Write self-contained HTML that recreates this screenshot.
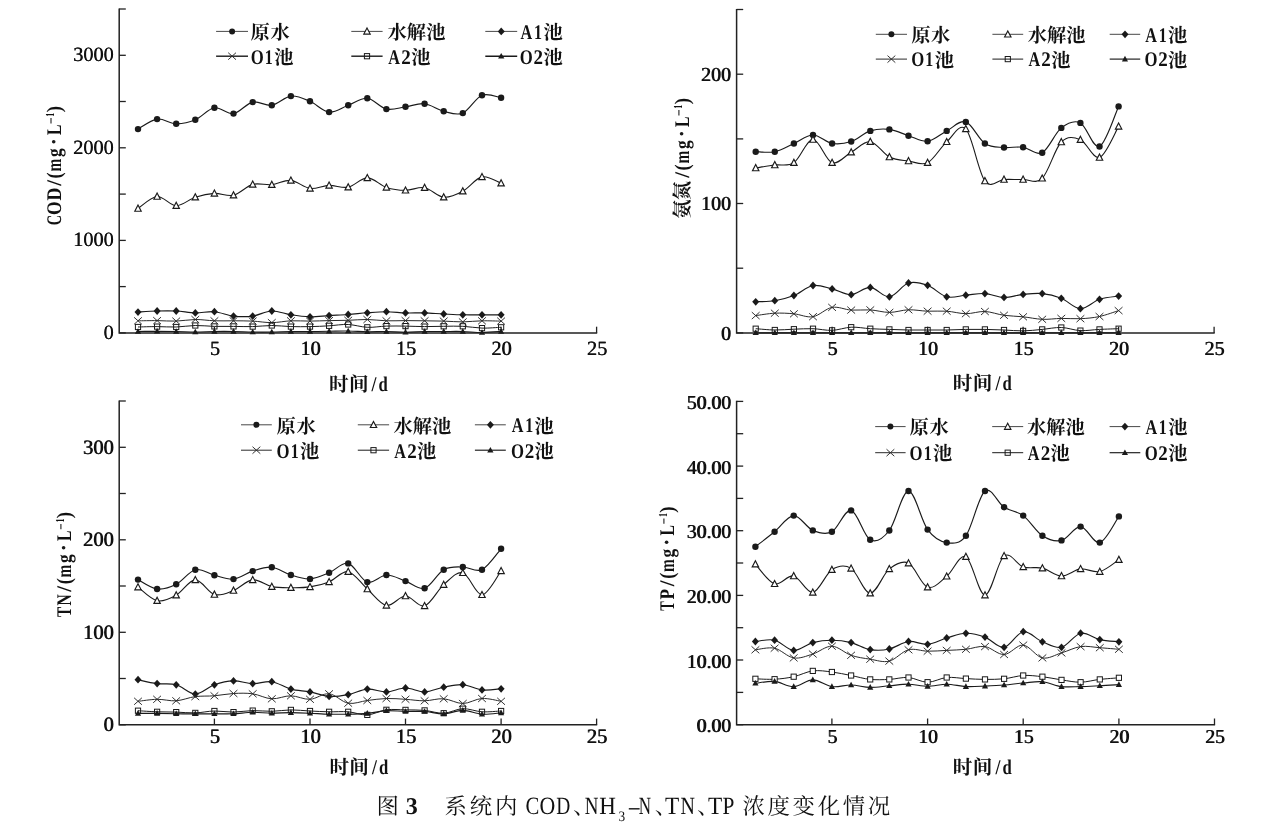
<!DOCTYPE html>
<html><head><meta charset="utf-8"><title>fig3</title>
<style>html,body{margin:0;padding:0;background:#fff}svg text{fill:#111;text-rendering:geometricPrecision}svg{will-change:transform}</style></head>
<body><svg width="1276" height="823" viewBox="0 0 1276 823" style="display:block">
<rect width="1276" height="823" fill="#fff"/>
<path d="M119.2,8.4V332.9H597.2" fill="none" stroke="#222" stroke-width="1.5"/><path d="M119.2,55.3h6.6" stroke="#222" stroke-width="1.3"/><path d="M119.2,147.8h6.6" stroke="#222" stroke-width="1.3"/><path d="M119.2,240.4h6.6" stroke="#222" stroke-width="1.3"/><path d="M119.2,332.9h6.6" stroke="#222" stroke-width="1.3"/><path d="M119.2,9.0h6.6" stroke="#222" stroke-width="1.3"/><path d="M119.2,101.5h6.6" stroke="#222" stroke-width="1.3"/><path d="M119.2,194.1h6.6" stroke="#222" stroke-width="1.3"/><path d="M119.2,286.6h6.6" stroke="#222" stroke-width="1.3"/><path d="M214.4,332.9v-6.2" stroke="#222" stroke-width="1.3"/><text transform="translate(214.74,354.80)" text-anchor="middle" style="font-family:'Liberation Serif',serif;font-size:20.3px;" >5</text><text transform="translate(215.34,354.80)" text-anchor="middle" style="font-family:'Liberation Serif',serif;font-size:20.3px;" >5</text><path d="M310.0,332.9v-6.2" stroke="#222" stroke-width="1.3"/><text transform="translate(310.28,354.80)" text-anchor="middle" style="font-family:'Liberation Serif',serif;font-size:20.3px;" >10</text><text transform="translate(310.88,354.80)" text-anchor="middle" style="font-family:'Liberation Serif',serif;font-size:20.3px;" >10</text><path d="M405.5,332.9v-6.2" stroke="#222" stroke-width="1.3"/><text transform="translate(405.82,354.80)" text-anchor="middle" style="font-family:'Liberation Serif',serif;font-size:20.3px;" >15</text><text transform="translate(406.42,354.80)" text-anchor="middle" style="font-family:'Liberation Serif',serif;font-size:20.3px;" >15</text><path d="M501.1,332.9v-6.2" stroke="#222" stroke-width="1.3"/><text transform="translate(501.36,354.80)" text-anchor="middle" style="font-family:'Liberation Serif',serif;font-size:20.3px;" >20</text><text transform="translate(501.96,354.80)" text-anchor="middle" style="font-family:'Liberation Serif',serif;font-size:20.3px;" >20</text><path d="M596.6,332.9v-6.2" stroke="#222" stroke-width="1.3"/><text transform="translate(596.90,354.80)" text-anchor="middle" style="font-family:'Liberation Serif',serif;font-size:20.3px;" >25</text><text transform="translate(597.50,354.80)" text-anchor="middle" style="font-family:'Liberation Serif',serif;font-size:20.3px;" >25</text><text transform="translate(113.62,61.17)" text-anchor="end" style="font-family:'Liberation Serif',serif;font-size:20.3px;" >3000</text><text transform="translate(113.97,61.17)" text-anchor="end" style="font-family:'Liberation Serif',serif;font-size:20.3px;" >3000</text><text transform="translate(113.62,153.71)" text-anchor="end" style="font-family:'Liberation Serif',serif;font-size:20.3px;" >2000</text><text transform="translate(113.97,153.71)" text-anchor="end" style="font-family:'Liberation Serif',serif;font-size:20.3px;" >2000</text><text transform="translate(113.62,246.26)" text-anchor="end" style="font-family:'Liberation Serif',serif;font-size:20.3px;" >1000</text><text transform="translate(113.97,246.26)" text-anchor="end" style="font-family:'Liberation Serif',serif;font-size:20.3px;" >1000</text><text transform="translate(113.62,338.80)" text-anchor="end" style="font-family:'Liberation Serif',serif;font-size:20.3px;" >0</text><text transform="translate(113.97,338.80)" text-anchor="end" style="font-family:'Liberation Serif',serif;font-size:20.3px;" >0</text>
<path d="M736.6,8.9V332.9H1214.7" fill="none" stroke="#222" stroke-width="1.5"/><path d="M736.6,74.2h6.6" stroke="#222" stroke-width="1.3"/><path d="M736.6,203.5h6.6" stroke="#222" stroke-width="1.3"/><path d="M736.6,332.9h6.6" stroke="#222" stroke-width="1.3"/><path d="M736.6,9.5h6.6" stroke="#222" stroke-width="1.3"/><path d="M736.6,138.9h6.6" stroke="#222" stroke-width="1.3"/><path d="M736.6,268.2h6.6" stroke="#222" stroke-width="1.3"/><path d="M832.1,332.9v-6.2" stroke="#222" stroke-width="1.3"/><text transform="translate(832.30,354.50)" text-anchor="middle" style="font-family:'Liberation Serif',serif;font-size:20px;" >5</text><text transform="translate(833.10,354.50)" text-anchor="middle" style="font-family:'Liberation Serif',serif;font-size:20px;" >5</text><path d="M927.6,332.9v-6.2" stroke="#222" stroke-width="1.3"/><text transform="translate(927.80,354.50)" text-anchor="middle" style="font-family:'Liberation Serif',serif;font-size:20px;" >10</text><text transform="translate(928.60,354.50)" text-anchor="middle" style="font-family:'Liberation Serif',serif;font-size:20px;" >10</text><path d="M1023.1,332.9v-6.2" stroke="#222" stroke-width="1.3"/><text transform="translate(1023.30,354.50)" text-anchor="middle" style="font-family:'Liberation Serif',serif;font-size:20px;" >15</text><text transform="translate(1024.10,354.50)" text-anchor="middle" style="font-family:'Liberation Serif',serif;font-size:20px;" >15</text><path d="M1118.6,332.9v-6.2" stroke="#222" stroke-width="1.3"/><text transform="translate(1118.80,354.50)" text-anchor="middle" style="font-family:'Liberation Serif',serif;font-size:20px;" >20</text><text transform="translate(1119.60,354.50)" text-anchor="middle" style="font-family:'Liberation Serif',serif;font-size:20px;" >20</text><path d="M1214.1,332.9v-6.2" stroke="#222" stroke-width="1.3"/><text transform="translate(1214.30,354.50)" text-anchor="middle" style="font-family:'Liberation Serif',serif;font-size:20px;" >25</text><text transform="translate(1215.10,354.50)" text-anchor="middle" style="font-family:'Liberation Serif',serif;font-size:20px;" >25</text><text transform="translate(730.80,80.78)" text-anchor="end" style="font-family:'Liberation Serif',serif;font-size:20px;" >200</text><text transform="translate(731.60,80.78)" text-anchor="end" style="font-family:'Liberation Serif',serif;font-size:20px;" >200</text><text transform="translate(730.80,210.14)" text-anchor="end" style="font-family:'Liberation Serif',serif;font-size:20px;" >100</text><text transform="translate(731.60,210.14)" text-anchor="end" style="font-family:'Liberation Serif',serif;font-size:20px;" >100</text><text transform="translate(730.80,339.50)" text-anchor="end" style="font-family:'Liberation Serif',serif;font-size:20px;" >0</text><text transform="translate(731.60,339.50)" text-anchor="end" style="font-family:'Liberation Serif',serif;font-size:20px;" >0</text>
<path d="M119.2,400.4V724.8H597.2" fill="none" stroke="#222" stroke-width="1.5"/><path d="M119.2,447.3h6.6" stroke="#222" stroke-width="1.3"/><path d="M119.2,539.8h6.6" stroke="#222" stroke-width="1.3"/><path d="M119.2,632.3h6.6" stroke="#222" stroke-width="1.3"/><path d="M119.2,724.8h6.6" stroke="#222" stroke-width="1.3"/><path d="M119.2,401.0h6.6" stroke="#222" stroke-width="1.3"/><path d="M119.2,493.5h6.6" stroke="#222" stroke-width="1.3"/><path d="M119.2,586.0h6.6" stroke="#222" stroke-width="1.3"/><path d="M119.2,678.5h6.6" stroke="#222" stroke-width="1.3"/><path d="M214.4,724.8v-6.2" stroke="#222" stroke-width="1.3"/><text transform="translate(214.64,742.90)" text-anchor="middle" style="font-family:'Liberation Serif',serif;font-size:20.5px;" >5</text><text transform="translate(215.44,742.90)" text-anchor="middle" style="font-family:'Liberation Serif',serif;font-size:20.5px;" >5</text><path d="M310.0,724.8v-6.2" stroke="#222" stroke-width="1.3"/><text transform="translate(310.18,742.90)" text-anchor="middle" style="font-family:'Liberation Serif',serif;font-size:20.5px;" >10</text><text transform="translate(310.98,742.90)" text-anchor="middle" style="font-family:'Liberation Serif',serif;font-size:20.5px;" >10</text><path d="M405.5,724.8v-6.2" stroke="#222" stroke-width="1.3"/><text transform="translate(405.72,742.90)" text-anchor="middle" style="font-family:'Liberation Serif',serif;font-size:20.5px;" >15</text><text transform="translate(406.52,742.90)" text-anchor="middle" style="font-family:'Liberation Serif',serif;font-size:20.5px;" >15</text><path d="M501.1,724.8v-6.2" stroke="#222" stroke-width="1.3"/><text transform="translate(501.26,742.90)" text-anchor="middle" style="font-family:'Liberation Serif',serif;font-size:20.5px;" >20</text><text transform="translate(502.06,742.90)" text-anchor="middle" style="font-family:'Liberation Serif',serif;font-size:20.5px;" >20</text><path d="M596.6,724.8v-6.2" stroke="#222" stroke-width="1.3"/><text transform="translate(596.80,742.90)" text-anchor="middle" style="font-family:'Liberation Serif',serif;font-size:20.5px;" >25</text><text transform="translate(597.60,742.90)" text-anchor="middle" style="font-family:'Liberation Serif',serif;font-size:20.5px;" >25</text><text transform="translate(113.40,453.86)" text-anchor="end" style="font-family:'Liberation Serif',serif;font-size:20.5px;" >300</text><text transform="translate(114.20,453.86)" text-anchor="end" style="font-family:'Liberation Serif',serif;font-size:20.5px;" >300</text><text transform="translate(113.40,546.37)" text-anchor="end" style="font-family:'Liberation Serif',serif;font-size:20.5px;" >200</text><text transform="translate(114.20,546.37)" text-anchor="end" style="font-family:'Liberation Serif',serif;font-size:20.5px;" >200</text><text transform="translate(113.40,638.89)" text-anchor="end" style="font-family:'Liberation Serif',serif;font-size:20.5px;" >100</text><text transform="translate(114.20,638.89)" text-anchor="end" style="font-family:'Liberation Serif',serif;font-size:20.5px;" >100</text><text transform="translate(113.40,731.40)" text-anchor="end" style="font-family:'Liberation Serif',serif;font-size:20.5px;" >0</text><text transform="translate(114.20,731.40)" text-anchor="end" style="font-family:'Liberation Serif',serif;font-size:20.5px;" >0</text>
<path d="M736.6,400.8V724.7H1215.1" fill="none" stroke="#222" stroke-width="1.5"/><path d="M736.6,401.4h6.6" stroke="#222" stroke-width="1.3"/><path d="M736.6,466.1h6.6" stroke="#222" stroke-width="1.3"/><path d="M736.6,530.7h6.6" stroke="#222" stroke-width="1.3"/><path d="M736.6,595.4h6.6" stroke="#222" stroke-width="1.3"/><path d="M736.6,660.0h6.6" stroke="#222" stroke-width="1.3"/><path d="M736.6,724.7h6.6" stroke="#222" stroke-width="1.3"/><path d="M736.6,433.7h6.6" stroke="#222" stroke-width="1.3"/><path d="M736.6,498.4h6.6" stroke="#222" stroke-width="1.3"/><path d="M736.6,563.0h6.6" stroke="#222" stroke-width="1.3"/><path d="M736.6,627.7h6.6" stroke="#222" stroke-width="1.3"/><path d="M736.6,692.4h6.6" stroke="#222" stroke-width="1.3"/><path d="M831.9,724.7v-6.2" stroke="#222" stroke-width="1.3"/><text transform="translate(832.15,743.20)" text-anchor="middle" style="font-family:'Liberation Serif',serif;font-size:19.7px;" >5</text><text transform="translate(832.95,743.20)" text-anchor="middle" style="font-family:'Liberation Serif',serif;font-size:19.7px;" >5</text><path d="M927.6,724.7v-6.2" stroke="#222" stroke-width="1.3"/><text transform="translate(927.80,743.20)" text-anchor="middle" style="font-family:'Liberation Serif',serif;font-size:19.7px;" >10</text><text transform="translate(928.60,743.20)" text-anchor="middle" style="font-family:'Liberation Serif',serif;font-size:19.7px;" >10</text><path d="M1023.2,724.7v-6.2" stroke="#222" stroke-width="1.3"/><text transform="translate(1023.45,743.20)" text-anchor="middle" style="font-family:'Liberation Serif',serif;font-size:19.7px;" >15</text><text transform="translate(1024.25,743.20)" text-anchor="middle" style="font-family:'Liberation Serif',serif;font-size:19.7px;" >15</text><path d="M1118.9,724.7v-6.2" stroke="#222" stroke-width="1.3"/><text transform="translate(1119.10,743.20)" text-anchor="middle" style="font-family:'Liberation Serif',serif;font-size:19.7px;" >20</text><text transform="translate(1119.90,743.20)" text-anchor="middle" style="font-family:'Liberation Serif',serif;font-size:19.7px;" >20</text><path d="M1214.5,724.7v-6.2" stroke="#222" stroke-width="1.3"/><text transform="translate(1214.75,743.20)" text-anchor="middle" style="font-family:'Liberation Serif',serif;font-size:19.7px;" >25</text><text transform="translate(1215.55,743.20)" text-anchor="middle" style="font-family:'Liberation Serif',serif;font-size:19.7px;" >25</text><text transform="translate(730.80,409.10)" text-anchor="end" style="font-family:'Liberation Serif',serif;font-size:19.7px;" >50.00</text><text transform="translate(731.60,409.10)" text-anchor="end" style="font-family:'Liberation Serif',serif;font-size:19.7px;" >50.00</text><text transform="translate(730.80,473.76)" text-anchor="end" style="font-family:'Liberation Serif',serif;font-size:19.7px;" >40.00</text><text transform="translate(731.60,473.76)" text-anchor="end" style="font-family:'Liberation Serif',serif;font-size:19.7px;" >40.00</text><text transform="translate(730.80,538.42)" text-anchor="end" style="font-family:'Liberation Serif',serif;font-size:19.7px;" >30.00</text><text transform="translate(731.60,538.42)" text-anchor="end" style="font-family:'Liberation Serif',serif;font-size:19.7px;" >30.00</text><text transform="translate(730.80,603.08)" text-anchor="end" style="font-family:'Liberation Serif',serif;font-size:19.7px;" >20.00</text><text transform="translate(731.60,603.08)" text-anchor="end" style="font-family:'Liberation Serif',serif;font-size:19.7px;" >20.00</text><text transform="translate(730.80,667.74)" text-anchor="end" style="font-family:'Liberation Serif',serif;font-size:19.7px;" >10.00</text><text transform="translate(731.60,667.74)" text-anchor="end" style="font-family:'Liberation Serif',serif;font-size:19.7px;" >10.00</text><text transform="translate(730.80,732.40)" text-anchor="end" style="font-family:'Liberation Serif',serif;font-size:19.7px;" >0.00</text><text transform="translate(731.60,732.40)" text-anchor="end" style="font-family:'Liberation Serif',serif;font-size:19.7px;" >0.00</text>
<path d="M138.0,129.1C141.2,127.4 150.7,120.0 157.1,119.1C163.5,118.2 169.9,123.7 176.2,123.8C182.6,123.9 189.0,122.5 195.3,119.8C201.7,117.1 208.1,108.8 214.4,107.8C220.8,106.8 227.2,114.5 233.5,113.6C239.9,112.6 246.3,103.5 252.7,102.1C259.0,100.7 265.4,106.3 271.8,105.3C278.1,104.3 284.5,96.8 290.9,96.1C297.2,95.4 303.6,98.6 310.0,101.3C316.3,104.0 322.7,111.4 329.1,112.1C335.5,112.8 341.8,107.6 348.2,105.3C354.6,103.0 360.9,97.7 367.3,98.3C373.7,98.9 380.0,107.7 386.4,109.1C392.8,110.5 399.2,107.7 405.5,106.8C411.9,105.9 418.3,103.0 424.6,103.8C431.0,104.5 437.4,109.8 443.7,111.3C450.1,112.8 456.5,115.8 462.8,113.1C469.2,110.4 475.6,97.8 482.0,95.3C488.3,92.8 497.9,97.4 501.1,97.8" fill="none" stroke="#1a1a1a" stroke-width="1.15"/>
<path d="M138.0,208.5C141.2,206.5 150.7,197.0 157.1,196.5C163.5,196.0 169.9,205.6 176.2,205.7C182.6,205.8 189.0,199.2 195.3,197.2C201.7,195.1 208.1,193.7 214.4,193.4C220.8,193.1 227.2,196.7 233.5,195.2C239.9,193.7 246.3,186.2 252.7,184.4C259.0,182.7 265.4,185.4 271.8,184.7C278.1,184.0 284.5,179.8 290.9,180.4C297.2,181.0 303.6,187.6 310.0,188.4C316.3,189.2 322.7,185.6 329.1,185.4C335.5,185.2 341.8,188.4 348.2,187.2C354.6,185.9 360.9,177.9 367.3,177.9C373.7,177.9 380.0,185.3 386.4,187.4C392.8,189.5 399.2,190.2 405.5,190.3C411.9,190.4 418.3,186.5 424.6,187.7C431.0,188.8 437.4,196.6 443.7,197.2C450.1,197.8 456.5,194.6 462.8,191.2C469.2,187.8 475.6,178.2 482.0,176.9C488.3,175.6 497.9,182.1 501.1,183.2" fill="none" stroke="#1a1a1a" stroke-width="1.1"/>
<path d="M138.0,312.1C141.2,311.9 150.7,311.2 157.1,311.0C163.5,310.8 169.9,310.7 176.2,311.0C182.6,311.3 189.0,312.8 195.3,312.9C201.7,313.0 208.1,311.2 214.4,311.7C220.8,312.2 227.2,315.4 233.5,316.1C239.9,316.8 246.3,317.0 252.7,316.1C259.0,315.2 265.4,311.2 271.8,311.0C278.1,310.8 284.5,313.8 290.9,314.8C297.2,315.8 303.6,316.7 310.0,316.8C316.3,316.9 322.7,316.0 329.1,315.6C335.5,315.2 341.8,315.0 348.2,314.5C354.6,314.0 360.9,313.3 367.3,312.8C373.7,312.3 380.0,311.7 386.4,311.7C392.8,311.7 399.2,312.7 405.5,312.9C411.9,313.1 418.3,312.7 424.6,312.9C431.0,313.1 437.4,313.7 443.7,314.0C450.1,314.3 456.5,314.7 462.8,314.8C469.2,314.9 475.6,314.8 482.0,314.8C488.3,314.8 497.9,314.8 501.1,314.8" fill="none" stroke="#1a1a1a" stroke-width="1.15"/>
<path d="M138.0,320.8C141.2,320.8 150.7,320.6 157.1,320.6C163.5,320.7 169.9,321.3 176.2,321.1C182.6,320.9 189.0,319.6 195.3,319.5C201.7,319.4 208.1,320.6 214.4,320.8C220.8,321.0 227.2,320.8 233.5,320.8C239.9,320.9 246.3,320.8 252.7,321.1C259.0,321.4 265.4,322.7 271.8,322.6C278.1,322.6 284.5,321.1 290.9,320.8C297.2,320.6 303.6,321.1 310.0,321.1C316.3,321.1 322.7,320.7 329.1,320.6C335.5,320.5 341.8,320.5 348.2,320.3C354.6,320.1 360.9,319.4 367.3,319.5C373.7,319.6 380.0,320.6 386.4,320.8C392.8,321.0 399.2,320.6 405.5,320.6C411.9,320.6 418.3,320.7 424.6,320.8C431.0,320.9 437.4,320.9 443.7,321.1C450.1,321.3 456.5,321.9 462.8,321.9C469.2,321.8 475.6,320.9 482.0,320.8C488.3,320.7 497.9,321.1 501.1,321.1" fill="none" stroke="#2a2a2a" stroke-width="1.0"/>
<path d="M138.0,327.0C141.2,326.9 150.7,326.6 157.1,326.6C163.5,326.6 169.9,327.2 176.2,327.0C182.6,326.8 189.0,325.6 195.3,325.5C201.7,325.4 208.1,326.2 214.4,326.4C220.8,326.5 227.2,326.4 233.5,326.4C239.9,326.4 246.3,326.8 252.7,326.6C259.0,326.5 265.4,325.5 271.8,325.5C278.1,325.5 284.5,326.4 290.9,326.6C297.2,326.8 303.6,326.7 310.0,326.6C316.3,326.5 322.7,326.2 329.1,325.8C335.5,325.4 341.8,324.2 348.2,324.5C354.6,324.8 360.9,327.0 367.3,327.3C373.7,327.6 380.0,326.3 386.4,326.1C392.8,325.9 399.2,326.0 405.5,326.1C411.9,326.2 418.3,326.6 424.6,326.6C431.0,326.6 437.4,326.4 443.7,326.3C450.1,326.2 456.5,326.0 462.8,326.3C469.2,326.6 475.6,327.9 482.0,328.1C488.3,328.3 497.9,327.4 501.1,327.3" fill="none" stroke="#1a1a1a" stroke-width="1.0"/>
<path d="M138.0,331.5C141.2,331.5 150.7,331.3 157.1,331.3C163.5,331.3 169.9,331.4 176.2,331.5C182.6,331.6 189.0,332.0 195.3,332.0C201.7,332.0 208.1,331.6 214.4,331.5C220.8,331.4 227.2,331.4 233.5,331.5C239.9,331.6 246.3,331.9 252.7,332.0C259.0,332.1 265.4,332.1 271.8,332.0C278.1,331.9 284.5,331.6 290.9,331.5C297.2,331.4 303.6,331.5 310.0,331.5C316.3,331.5 322.7,331.4 329.1,331.3C335.5,331.2 341.8,330.9 348.2,331.0C354.6,331.1 360.9,331.7 367.3,331.8C373.7,331.9 380.0,331.4 386.4,331.5C392.8,331.6 399.2,332.3 405.5,332.3C411.9,332.3 418.3,331.6 424.6,331.5C431.0,331.4 437.4,331.5 443.7,331.5C450.1,331.5 456.5,331.3 462.8,331.5C469.2,331.7 475.6,332.5 482.0,332.5C488.3,332.5 497.9,331.7 501.1,331.5" fill="none" stroke="#1a1a1a" stroke-width="1.15"/>
<circle cx="138.0" cy="129.1" r="3.2" fill="#1a1a1a"/>
<circle cx="157.1" cy="119.1" r="3.2" fill="#1a1a1a"/>
<circle cx="176.2" cy="123.8" r="3.2" fill="#1a1a1a"/>
<circle cx="195.3" cy="119.8" r="3.2" fill="#1a1a1a"/>
<circle cx="214.4" cy="107.8" r="3.2" fill="#1a1a1a"/>
<circle cx="233.5" cy="113.6" r="3.2" fill="#1a1a1a"/>
<circle cx="252.7" cy="102.1" r="3.2" fill="#1a1a1a"/>
<circle cx="271.8" cy="105.3" r="3.2" fill="#1a1a1a"/>
<circle cx="290.9" cy="96.1" r="3.2" fill="#1a1a1a"/>
<circle cx="310.0" cy="101.3" r="3.2" fill="#1a1a1a"/>
<circle cx="329.1" cy="112.1" r="3.2" fill="#1a1a1a"/>
<circle cx="348.2" cy="105.3" r="3.2" fill="#1a1a1a"/>
<circle cx="367.3" cy="98.3" r="3.2" fill="#1a1a1a"/>
<circle cx="386.4" cy="109.1" r="3.2" fill="#1a1a1a"/>
<circle cx="405.5" cy="106.8" r="3.2" fill="#1a1a1a"/>
<circle cx="424.6" cy="103.8" r="3.2" fill="#1a1a1a"/>
<circle cx="443.7" cy="111.3" r="3.2" fill="#1a1a1a"/>
<circle cx="462.8" cy="113.1" r="3.2" fill="#1a1a1a"/>
<circle cx="482.0" cy="95.3" r="3.2" fill="#1a1a1a"/>
<circle cx="501.1" cy="97.8" r="3.2" fill="#1a1a1a"/>
<path d="M138.0,205.1L141.2,211.2L134.8,211.2Z" fill="#fff" stroke="#1a1a1a" stroke-width="1.15"/>
<path d="M157.1,193.1L160.3,199.2L153.9,199.2Z" fill="#fff" stroke="#1a1a1a" stroke-width="1.15"/>
<path d="M176.2,202.3L179.4,208.4L173.0,208.4Z" fill="#fff" stroke="#1a1a1a" stroke-width="1.15"/>
<path d="M195.3,193.8L198.5,199.9L192.1,199.9Z" fill="#fff" stroke="#1a1a1a" stroke-width="1.15"/>
<path d="M214.4,190.0L217.6,196.1L211.2,196.1Z" fill="#fff" stroke="#1a1a1a" stroke-width="1.15"/>
<path d="M233.5,191.8L236.7,197.9L230.3,197.9Z" fill="#fff" stroke="#1a1a1a" stroke-width="1.15"/>
<path d="M252.7,181.0L255.9,187.1L249.5,187.1Z" fill="#fff" stroke="#1a1a1a" stroke-width="1.15"/>
<path d="M271.8,181.3L275.0,187.4L268.6,187.4Z" fill="#fff" stroke="#1a1a1a" stroke-width="1.15"/>
<path d="M290.9,177.0L294.1,183.1L287.7,183.1Z" fill="#fff" stroke="#1a1a1a" stroke-width="1.15"/>
<path d="M310.0,185.0L313.2,191.1L306.8,191.1Z" fill="#fff" stroke="#1a1a1a" stroke-width="1.15"/>
<path d="M329.1,182.0L332.3,188.1L325.9,188.1Z" fill="#fff" stroke="#1a1a1a" stroke-width="1.15"/>
<path d="M348.2,183.8L351.4,189.9L345.0,189.9Z" fill="#fff" stroke="#1a1a1a" stroke-width="1.15"/>
<path d="M367.3,174.5L370.5,180.6L364.1,180.6Z" fill="#fff" stroke="#1a1a1a" stroke-width="1.15"/>
<path d="M386.4,184.0L389.6,190.1L383.2,190.1Z" fill="#fff" stroke="#1a1a1a" stroke-width="1.15"/>
<path d="M405.5,186.9L408.7,193.0L402.3,193.0Z" fill="#fff" stroke="#1a1a1a" stroke-width="1.15"/>
<path d="M424.6,184.3L427.8,190.4L421.4,190.4Z" fill="#fff" stroke="#1a1a1a" stroke-width="1.15"/>
<path d="M443.7,193.8L446.9,199.9L440.5,199.9Z" fill="#fff" stroke="#1a1a1a" stroke-width="1.15"/>
<path d="M462.8,187.8L466.0,193.9L459.6,193.9Z" fill="#fff" stroke="#1a1a1a" stroke-width="1.15"/>
<path d="M482.0,173.5L485.2,179.6L478.8,179.6Z" fill="#fff" stroke="#1a1a1a" stroke-width="1.15"/>
<path d="M501.1,179.8L504.3,185.9L497.9,185.9Z" fill="#fff" stroke="#1a1a1a" stroke-width="1.15"/>
<path d="M138.0,308.2L141.5,312.1L138.0,316.0L134.5,312.1Z" fill="#1a1a1a"/>
<path d="M157.1,307.1L160.6,311.0L157.1,314.9L153.6,311.0Z" fill="#1a1a1a"/>
<path d="M176.2,307.1L179.7,311.0L176.2,314.9L172.7,311.0Z" fill="#1a1a1a"/>
<path d="M195.3,309.0L198.8,312.9L195.3,316.8L191.8,312.9Z" fill="#1a1a1a"/>
<path d="M214.4,307.8L217.9,311.7L214.4,315.6L210.9,311.7Z" fill="#1a1a1a"/>
<path d="M233.5,312.2L237.0,316.1L233.5,320.0L230.0,316.1Z" fill="#1a1a1a"/>
<path d="M252.7,312.2L256.2,316.1L252.7,320.0L249.2,316.1Z" fill="#1a1a1a"/>
<path d="M271.8,307.1L275.3,311.0L271.8,314.9L268.3,311.0Z" fill="#1a1a1a"/>
<path d="M290.9,310.9L294.4,314.8L290.9,318.7L287.4,314.8Z" fill="#1a1a1a"/>
<path d="M310.0,312.9L313.5,316.8L310.0,320.7L306.5,316.8Z" fill="#1a1a1a"/>
<path d="M329.1,311.7L332.6,315.6L329.1,319.5L325.6,315.6Z" fill="#1a1a1a"/>
<path d="M348.2,310.6L351.7,314.5L348.2,318.4L344.7,314.5Z" fill="#1a1a1a"/>
<path d="M367.3,308.9L370.8,312.8L367.3,316.7L363.8,312.8Z" fill="#1a1a1a"/>
<path d="M386.4,307.8L389.9,311.7L386.4,315.6L382.9,311.7Z" fill="#1a1a1a"/>
<path d="M405.5,309.0L409.0,312.9L405.5,316.8L402.0,312.9Z" fill="#1a1a1a"/>
<path d="M424.6,309.0L428.1,312.9L424.6,316.8L421.1,312.9Z" fill="#1a1a1a"/>
<path d="M443.7,310.1L447.2,314.0L443.7,317.9L440.2,314.0Z" fill="#1a1a1a"/>
<path d="M462.8,310.9L466.3,314.8L462.8,318.7L459.3,314.8Z" fill="#1a1a1a"/>
<path d="M482.0,310.9L485.5,314.8L482.0,318.7L478.5,314.8Z" fill="#1a1a1a"/>
<path d="M501.1,310.9L504.6,314.8L501.1,318.7L497.6,314.8Z" fill="#1a1a1a"/>
<path d="M134.1,317.3L141.9,324.3M141.9,317.3L134.1,324.3" stroke="#2a2a2a" stroke-width="0.95" fill="none"/>
<path d="M153.2,317.1L161.0,324.1M161.0,317.1L153.2,324.1" stroke="#2a2a2a" stroke-width="0.95" fill="none"/>
<path d="M172.3,317.6L180.1,324.6M180.1,317.6L172.3,324.6" stroke="#2a2a2a" stroke-width="0.95" fill="none"/>
<path d="M191.4,316.0L199.2,323.0M199.2,316.0L191.4,323.0" stroke="#2a2a2a" stroke-width="0.95" fill="none"/>
<path d="M210.5,317.3L218.3,324.3M218.3,317.3L210.5,324.3" stroke="#2a2a2a" stroke-width="0.95" fill="none"/>
<path d="M229.6,317.3L237.4,324.3M237.4,317.3L229.6,324.3" stroke="#2a2a2a" stroke-width="0.95" fill="none"/>
<path d="M248.8,317.6L256.6,324.6M256.6,317.6L248.8,324.6" stroke="#2a2a2a" stroke-width="0.95" fill="none"/>
<path d="M267.9,319.1L275.7,326.1M275.7,319.1L267.9,326.1" stroke="#2a2a2a" stroke-width="0.95" fill="none"/>
<path d="M287.0,317.3L294.8,324.3M294.8,317.3L287.0,324.3" stroke="#2a2a2a" stroke-width="0.95" fill="none"/>
<path d="M306.1,317.6L313.9,324.6M313.9,317.6L306.1,324.6" stroke="#2a2a2a" stroke-width="0.95" fill="none"/>
<path d="M325.2,317.1L333.0,324.1M333.0,317.1L325.2,324.1" stroke="#2a2a2a" stroke-width="0.95" fill="none"/>
<path d="M344.3,316.8L352.1,323.8M352.1,316.8L344.3,323.8" stroke="#2a2a2a" stroke-width="0.95" fill="none"/>
<path d="M363.4,316.0L371.2,323.0M371.2,316.0L363.4,323.0" stroke="#2a2a2a" stroke-width="0.95" fill="none"/>
<path d="M382.5,317.3L390.3,324.3M390.3,317.3L382.5,324.3" stroke="#2a2a2a" stroke-width="0.95" fill="none"/>
<path d="M401.6,317.1L409.4,324.1M409.4,317.1L401.6,324.1" stroke="#2a2a2a" stroke-width="0.95" fill="none"/>
<path d="M420.7,317.3L428.5,324.3M428.5,317.3L420.7,324.3" stroke="#2a2a2a" stroke-width="0.95" fill="none"/>
<path d="M439.8,317.6L447.6,324.6M447.6,317.6L439.8,324.6" stroke="#2a2a2a" stroke-width="0.95" fill="none"/>
<path d="M458.9,318.4L466.7,325.4M466.7,318.4L458.9,325.4" stroke="#2a2a2a" stroke-width="0.95" fill="none"/>
<path d="M478.1,317.3L485.9,324.3M485.9,317.3L478.1,324.3" stroke="#2a2a2a" stroke-width="0.95" fill="none"/>
<path d="M497.2,317.6L505.0,324.6M505.0,317.6L497.2,324.6" stroke="#2a2a2a" stroke-width="0.95" fill="none"/>
<rect x="135.4" y="324.4" width="5.2" height="5.2" fill="none" stroke="#1a1a1a" stroke-width="1"/>
<rect x="154.5" y="324.0" width="5.2" height="5.2" fill="none" stroke="#1a1a1a" stroke-width="1"/>
<rect x="173.6" y="324.4" width="5.2" height="5.2" fill="none" stroke="#1a1a1a" stroke-width="1"/>
<rect x="192.7" y="322.9" width="5.2" height="5.2" fill="none" stroke="#1a1a1a" stroke-width="1"/>
<rect x="211.8" y="323.8" width="5.2" height="5.2" fill="none" stroke="#1a1a1a" stroke-width="1"/>
<rect x="230.9" y="323.8" width="5.2" height="5.2" fill="none" stroke="#1a1a1a" stroke-width="1"/>
<rect x="250.1" y="324.0" width="5.2" height="5.2" fill="none" stroke="#1a1a1a" stroke-width="1"/>
<rect x="269.2" y="322.9" width="5.2" height="5.2" fill="none" stroke="#1a1a1a" stroke-width="1"/>
<rect x="288.3" y="324.0" width="5.2" height="5.2" fill="none" stroke="#1a1a1a" stroke-width="1"/>
<rect x="307.4" y="324.0" width="5.2" height="5.2" fill="none" stroke="#1a1a1a" stroke-width="1"/>
<rect x="326.5" y="323.2" width="5.2" height="5.2" fill="none" stroke="#1a1a1a" stroke-width="1"/>
<rect x="345.6" y="321.9" width="5.2" height="5.2" fill="none" stroke="#1a1a1a" stroke-width="1"/>
<rect x="364.7" y="324.7" width="5.2" height="5.2" fill="none" stroke="#1a1a1a" stroke-width="1"/>
<rect x="383.8" y="323.5" width="5.2" height="5.2" fill="none" stroke="#1a1a1a" stroke-width="1"/>
<rect x="402.9" y="323.5" width="5.2" height="5.2" fill="none" stroke="#1a1a1a" stroke-width="1"/>
<rect x="422.0" y="324.0" width="5.2" height="5.2" fill="none" stroke="#1a1a1a" stroke-width="1"/>
<rect x="441.1" y="323.7" width="5.2" height="5.2" fill="none" stroke="#1a1a1a" stroke-width="1"/>
<rect x="460.2" y="323.7" width="5.2" height="5.2" fill="none" stroke="#1a1a1a" stroke-width="1"/>
<rect x="479.4" y="325.5" width="5.2" height="5.2" fill="none" stroke="#1a1a1a" stroke-width="1"/>
<rect x="498.5" y="324.7" width="5.2" height="5.2" fill="none" stroke="#1a1a1a" stroke-width="1"/>
<path d="M138.0,328.2L141.1,333.8L134.9,333.8Z" fill="#1a1a1a"/>
<path d="M157.1,328.0L160.2,333.6L154.0,333.6Z" fill="#1a1a1a"/>
<path d="M176.2,328.2L179.3,333.8L173.1,333.8Z" fill="#1a1a1a"/>
<path d="M195.3,328.7L198.4,334.3L192.2,334.3Z" fill="#1a1a1a"/>
<path d="M214.4,328.2L217.5,333.8L211.3,333.8Z" fill="#1a1a1a"/>
<path d="M233.5,328.2L236.6,333.8L230.4,333.8Z" fill="#1a1a1a"/>
<path d="M252.7,328.7L255.8,334.3L249.6,334.3Z" fill="#1a1a1a"/>
<path d="M271.8,328.7L274.9,334.3L268.7,334.3Z" fill="#1a1a1a"/>
<path d="M290.9,328.2L294.0,333.8L287.8,333.8Z" fill="#1a1a1a"/>
<path d="M310.0,328.2L313.1,333.8L306.9,333.8Z" fill="#1a1a1a"/>
<path d="M329.1,328.0L332.2,333.6L326.0,333.6Z" fill="#1a1a1a"/>
<path d="M348.2,327.7L351.3,333.3L345.1,333.3Z" fill="#1a1a1a"/>
<path d="M367.3,328.5L370.4,334.1L364.2,334.1Z" fill="#1a1a1a"/>
<path d="M386.4,328.2L389.5,333.8L383.3,333.8Z" fill="#1a1a1a"/>
<path d="M405.5,329.0L408.6,334.6L402.4,334.6Z" fill="#1a1a1a"/>
<path d="M424.6,328.2L427.7,333.8L421.5,333.8Z" fill="#1a1a1a"/>
<path d="M443.7,328.2L446.8,333.8L440.6,333.8Z" fill="#1a1a1a"/>
<path d="M462.8,328.2L465.9,333.8L459.7,333.8Z" fill="#1a1a1a"/>
<path d="M482.0,329.2L485.1,334.8L478.9,334.8Z" fill="#1a1a1a"/>
<path d="M501.1,328.2L504.2,333.8L498.0,333.8Z" fill="#1a1a1a"/>
<path d="M755.7,151.7C758.9,151.7 768.4,153.1 774.8,151.7C781.2,150.3 787.5,146.3 793.9,143.5C800.3,140.7 806.6,135.0 813.0,135.0C819.4,135.0 825.7,142.4 832.1,143.5C838.5,144.6 844.8,143.6 851.2,141.5C857.6,139.4 863.9,132.9 870.3,130.9C876.7,128.9 883.0,128.6 889.4,129.4C895.8,130.2 902.1,133.7 908.5,135.7C914.9,137.7 921.2,142.1 927.6,141.3C934.0,140.5 940.3,134.1 946.7,130.9C953.1,127.7 959.4,119.8 965.8,121.9C972.2,124.0 978.5,139.2 984.9,143.5C991.3,147.8 997.6,146.9 1004.0,147.5C1010.4,148.1 1016.7,146.3 1023.1,147.2C1029.5,148.1 1035.8,155.9 1042.2,152.7C1048.6,149.5 1054.9,132.9 1061.3,127.9C1067.7,122.9 1074.0,119.8 1080.4,122.9C1086.8,126.0 1093.1,149.2 1099.5,146.5C1105.9,143.8 1115.4,113.1 1118.6,106.4" fill="none" stroke="#1a1a1a" stroke-width="1.15"/>
<path d="M755.7,168.0C758.9,167.5 768.4,165.9 774.8,165.0C781.2,164.1 787.5,166.9 793.9,162.7C800.3,158.4 806.6,139.5 813.0,139.5C819.4,139.5 825.7,160.6 832.1,162.7C838.5,164.8 844.8,155.7 851.2,152.2C857.6,148.7 863.9,140.9 870.3,141.7C876.7,142.5 883.0,153.8 889.4,157.0C895.8,160.2 902.1,160.1 908.5,161.0C914.9,161.9 921.2,165.9 927.6,162.7C934.0,159.5 940.3,147.4 946.7,141.8C953.1,136.2 959.4,122.4 965.8,128.9C972.2,135.4 978.5,172.6 984.9,181.0C991.3,189.4 997.6,179.8 1004.0,179.5C1010.4,179.2 1016.7,179.7 1023.1,179.5C1029.5,179.3 1035.8,184.6 1042.2,178.3C1048.6,172.1 1054.9,148.4 1061.3,142.0C1067.7,135.6 1074.0,137.1 1080.4,139.7C1086.8,142.3 1093.1,159.7 1099.5,157.5C1105.9,155.3 1115.4,131.6 1118.6,126.4" fill="none" stroke="#1a1a1a" stroke-width="1.1"/>
<path d="M755.7,301.8C758.9,301.6 768.4,301.8 774.8,300.7C781.2,299.6 787.5,298.0 793.9,295.5C800.3,293.0 806.6,286.6 813.0,285.5C819.4,284.4 825.7,287.4 832.1,288.9C838.5,290.4 844.8,294.9 851.2,294.7C857.6,294.4 863.9,287.0 870.3,287.4C876.7,287.8 883.0,297.5 889.4,296.8C895.8,296.1 902.1,284.9 908.5,283.0C914.9,281.1 921.2,283.0 927.6,285.3C934.0,287.6 940.3,295.2 946.7,296.8C953.1,298.4 959.4,295.7 965.8,295.2C972.2,294.7 978.5,293.2 984.9,293.6C991.3,294.0 997.6,297.3 1004.0,297.4C1010.4,297.5 1016.7,295.0 1023.1,294.4C1029.5,293.8 1035.8,293.0 1042.2,293.6C1048.6,294.2 1054.9,295.8 1061.3,298.3C1067.7,300.8 1074.0,308.5 1080.4,308.7C1086.8,308.9 1093.1,301.4 1099.5,299.3C1105.9,297.2 1115.4,296.6 1118.6,296.1" fill="none" stroke="#1a1a1a" stroke-width="1.15"/>
<path d="M755.7,315.6C758.9,315.2 768.4,313.5 774.8,313.2C781.2,312.9 787.5,313.2 793.9,313.8C800.3,314.4 806.6,317.8 813.0,316.7C819.4,315.6 825.7,308.5 832.1,307.4C838.5,306.3 844.8,309.7 851.2,310.1C857.6,310.5 863.9,309.5 870.3,309.9C876.7,310.3 883.0,312.4 889.4,312.4C895.8,312.4 902.1,310.0 908.5,309.8C914.9,309.6 921.2,311.0 927.6,311.2C934.0,311.4 940.3,310.8 946.7,311.2C953.1,311.6 959.4,313.6 965.8,313.7C972.2,313.8 978.5,311.2 984.9,311.5C991.3,311.8 997.6,314.4 1004.0,315.3C1010.4,316.2 1016.7,316.1 1023.1,316.8C1029.5,317.5 1035.8,319.0 1042.2,319.3C1048.6,319.6 1054.9,318.5 1061.3,318.4C1067.7,318.3 1074.0,319.0 1080.4,318.7C1086.8,318.4 1093.1,317.9 1099.5,316.5C1105.9,315.1 1115.4,311.6 1118.6,310.6" fill="none" stroke="#2a2a2a" stroke-width="1.0"/>
<path d="M755.7,328.7C758.9,328.9 768.4,329.9 774.8,330.0C781.2,330.1 787.5,329.4 793.9,329.2C800.3,329.0 806.6,328.5 813.0,328.7C819.4,328.9 825.7,330.6 832.1,330.3C838.5,330.1 844.8,327.5 851.2,327.2C857.6,326.9 863.9,328.3 870.3,328.7C876.7,329.1 883.0,329.2 889.4,329.4C895.8,329.6 902.1,329.9 908.5,330.0C914.9,330.1 921.2,330.0 927.6,330.0C934.0,330.0 940.3,330.1 946.7,330.0C953.1,329.9 959.4,329.5 965.8,329.4C972.2,329.3 978.5,329.3 984.9,329.4C991.3,329.5 997.6,329.8 1004.0,330.0C1010.4,330.2 1016.7,331.0 1023.1,330.9C1029.5,330.8 1035.8,330.0 1042.2,329.4C1048.6,328.8 1054.9,327.3 1061.3,327.5C1067.7,327.7 1074.0,330.3 1080.4,330.6C1086.8,330.9 1093.1,329.7 1099.5,329.4C1105.9,329.1 1115.4,328.8 1118.6,328.7" fill="none" stroke="#1a1a1a" stroke-width="1.0"/>
<path d="M755.7,332.8C758.9,332.8 768.4,332.8 774.8,332.8C781.2,332.8 787.5,332.8 793.9,332.8C800.3,332.8 806.6,332.8 813.0,332.8C819.4,332.8 825.7,332.8 832.1,332.8C838.5,332.8 844.8,332.8 851.2,332.8C857.6,332.8 863.9,332.8 870.3,332.8C876.7,332.8 883.0,332.8 889.4,332.8C895.8,332.8 902.1,332.8 908.5,332.8C914.9,332.8 921.2,332.8 927.6,332.8C934.0,332.8 940.3,332.8 946.7,332.8C953.1,332.8 959.4,332.8 965.8,332.8C972.2,332.8 978.5,332.8 984.9,332.8C991.3,332.8 997.6,332.8 1004.0,332.8C1010.4,332.8 1016.7,332.8 1023.1,332.8C1029.5,332.8 1035.8,332.8 1042.2,332.8C1048.6,332.8 1054.9,332.8 1061.3,332.8C1067.7,332.8 1074.0,332.8 1080.4,332.8C1086.8,332.8 1093.1,332.8 1099.5,332.8C1105.9,332.8 1115.4,332.8 1118.6,332.8" fill="none" stroke="#1a1a1a" stroke-width="1.15"/>
<circle cx="755.7" cy="151.7" r="3.2" fill="#1a1a1a"/>
<circle cx="774.8" cy="151.7" r="3.2" fill="#1a1a1a"/>
<circle cx="793.9" cy="143.5" r="3.2" fill="#1a1a1a"/>
<circle cx="813.0" cy="135.0" r="3.2" fill="#1a1a1a"/>
<circle cx="832.1" cy="143.5" r="3.2" fill="#1a1a1a"/>
<circle cx="851.2" cy="141.5" r="3.2" fill="#1a1a1a"/>
<circle cx="870.3" cy="130.9" r="3.2" fill="#1a1a1a"/>
<circle cx="889.4" cy="129.4" r="3.2" fill="#1a1a1a"/>
<circle cx="908.5" cy="135.7" r="3.2" fill="#1a1a1a"/>
<circle cx="927.6" cy="141.3" r="3.2" fill="#1a1a1a"/>
<circle cx="946.7" cy="130.9" r="3.2" fill="#1a1a1a"/>
<circle cx="965.8" cy="121.9" r="3.2" fill="#1a1a1a"/>
<circle cx="984.9" cy="143.5" r="3.2" fill="#1a1a1a"/>
<circle cx="1004.0" cy="147.5" r="3.2" fill="#1a1a1a"/>
<circle cx="1023.1" cy="147.2" r="3.2" fill="#1a1a1a"/>
<circle cx="1042.2" cy="152.7" r="3.2" fill="#1a1a1a"/>
<circle cx="1061.3" cy="127.9" r="3.2" fill="#1a1a1a"/>
<circle cx="1080.4" cy="122.9" r="3.2" fill="#1a1a1a"/>
<circle cx="1099.5" cy="146.5" r="3.2" fill="#1a1a1a"/>
<circle cx="1118.6" cy="106.4" r="3.2" fill="#1a1a1a"/>
<path d="M755.7,164.6L758.9,170.7L752.5,170.7Z" fill="#fff" stroke="#1a1a1a" stroke-width="1.15"/>
<path d="M774.8,161.6L778.0,167.7L771.6,167.7Z" fill="#fff" stroke="#1a1a1a" stroke-width="1.15"/>
<path d="M793.9,159.3L797.1,165.4L790.7,165.4Z" fill="#fff" stroke="#1a1a1a" stroke-width="1.15"/>
<path d="M813.0,136.1L816.2,142.2L809.8,142.2Z" fill="#fff" stroke="#1a1a1a" stroke-width="1.15"/>
<path d="M832.1,159.3L835.3,165.4L828.9,165.4Z" fill="#fff" stroke="#1a1a1a" stroke-width="1.15"/>
<path d="M851.2,148.8L854.4,154.9L848.0,154.9Z" fill="#fff" stroke="#1a1a1a" stroke-width="1.15"/>
<path d="M870.3,138.3L873.5,144.4L867.1,144.4Z" fill="#fff" stroke="#1a1a1a" stroke-width="1.15"/>
<path d="M889.4,153.6L892.6,159.7L886.2,159.7Z" fill="#fff" stroke="#1a1a1a" stroke-width="1.15"/>
<path d="M908.5,157.6L911.7,163.7L905.3,163.7Z" fill="#fff" stroke="#1a1a1a" stroke-width="1.15"/>
<path d="M927.6,159.3L930.8,165.4L924.4,165.4Z" fill="#fff" stroke="#1a1a1a" stroke-width="1.15"/>
<path d="M946.7,138.4L949.9,144.5L943.5,144.5Z" fill="#fff" stroke="#1a1a1a" stroke-width="1.15"/>
<path d="M965.8,125.5L969.0,131.6L962.6,131.6Z" fill="#fff" stroke="#1a1a1a" stroke-width="1.15"/>
<path d="M984.9,177.6L988.1,183.7L981.7,183.7Z" fill="#fff" stroke="#1a1a1a" stroke-width="1.15"/>
<path d="M1004.0,176.1L1007.2,182.2L1000.8,182.2Z" fill="#fff" stroke="#1a1a1a" stroke-width="1.15"/>
<path d="M1023.1,176.1L1026.3,182.2L1019.9,182.2Z" fill="#fff" stroke="#1a1a1a" stroke-width="1.15"/>
<path d="M1042.2,174.9L1045.4,181.0L1039.0,181.0Z" fill="#fff" stroke="#1a1a1a" stroke-width="1.15"/>
<path d="M1061.3,138.6L1064.5,144.7L1058.1,144.7Z" fill="#fff" stroke="#1a1a1a" stroke-width="1.15"/>
<path d="M1080.4,136.3L1083.6,142.4L1077.2,142.4Z" fill="#fff" stroke="#1a1a1a" stroke-width="1.15"/>
<path d="M1099.5,154.1L1102.7,160.2L1096.3,160.2Z" fill="#fff" stroke="#1a1a1a" stroke-width="1.15"/>
<path d="M1118.6,123.0L1121.8,129.1L1115.4,129.1Z" fill="#fff" stroke="#1a1a1a" stroke-width="1.15"/>
<path d="M755.7,297.9L759.2,301.8L755.7,305.7L752.2,301.8Z" fill="#1a1a1a"/>
<path d="M774.8,296.8L778.3,300.7L774.8,304.6L771.3,300.7Z" fill="#1a1a1a"/>
<path d="M793.9,291.6L797.4,295.5L793.9,299.4L790.4,295.5Z" fill="#1a1a1a"/>
<path d="M813.0,281.6L816.5,285.5L813.0,289.4L809.5,285.5Z" fill="#1a1a1a"/>
<path d="M832.1,285.0L835.6,288.9L832.1,292.8L828.6,288.9Z" fill="#1a1a1a"/>
<path d="M851.2,290.8L854.7,294.7L851.2,298.6L847.7,294.7Z" fill="#1a1a1a"/>
<path d="M870.3,283.5L873.8,287.4L870.3,291.3L866.8,287.4Z" fill="#1a1a1a"/>
<path d="M889.4,292.9L892.9,296.8L889.4,300.7L885.9,296.8Z" fill="#1a1a1a"/>
<path d="M908.5,279.1L912.0,283.0L908.5,286.9L905.0,283.0Z" fill="#1a1a1a"/>
<path d="M927.6,281.4L931.1,285.3L927.6,289.2L924.1,285.3Z" fill="#1a1a1a"/>
<path d="M946.7,292.9L950.2,296.8L946.7,300.7L943.2,296.8Z" fill="#1a1a1a"/>
<path d="M965.8,291.3L969.3,295.2L965.8,299.1L962.3,295.2Z" fill="#1a1a1a"/>
<path d="M984.9,289.7L988.4,293.6L984.9,297.5L981.4,293.6Z" fill="#1a1a1a"/>
<path d="M1004.0,293.5L1007.5,297.4L1004.0,301.3L1000.5,297.4Z" fill="#1a1a1a"/>
<path d="M1023.1,290.5L1026.6,294.4L1023.1,298.3L1019.6,294.4Z" fill="#1a1a1a"/>
<path d="M1042.2,289.7L1045.7,293.6L1042.2,297.5L1038.7,293.6Z" fill="#1a1a1a"/>
<path d="M1061.3,294.4L1064.8,298.3L1061.3,302.2L1057.8,298.3Z" fill="#1a1a1a"/>
<path d="M1080.4,304.8L1083.9,308.7L1080.4,312.6L1076.9,308.7Z" fill="#1a1a1a"/>
<path d="M1099.5,295.4L1103.0,299.3L1099.5,303.2L1096.0,299.3Z" fill="#1a1a1a"/>
<path d="M1118.6,292.2L1122.1,296.1L1118.6,300.0L1115.1,296.1Z" fill="#1a1a1a"/>
<path d="M751.8,312.1L759.6,319.1M759.6,312.1L751.8,319.1" stroke="#2a2a2a" stroke-width="0.95" fill="none"/>
<path d="M770.9,309.7L778.7,316.7M778.7,309.7L770.9,316.7" stroke="#2a2a2a" stroke-width="0.95" fill="none"/>
<path d="M790.0,310.3L797.8,317.3M797.8,310.3L790.0,317.3" stroke="#2a2a2a" stroke-width="0.95" fill="none"/>
<path d="M809.1,313.2L816.9,320.2M816.9,313.2L809.1,320.2" stroke="#2a2a2a" stroke-width="0.95" fill="none"/>
<path d="M828.2,303.9L836.0,310.9M836.0,303.9L828.2,310.9" stroke="#2a2a2a" stroke-width="0.95" fill="none"/>
<path d="M847.3,306.6L855.1,313.6M855.1,306.6L847.3,313.6" stroke="#2a2a2a" stroke-width="0.95" fill="none"/>
<path d="M866.4,306.4L874.2,313.4M874.2,306.4L866.4,313.4" stroke="#2a2a2a" stroke-width="0.95" fill="none"/>
<path d="M885.5,308.9L893.3,315.9M893.3,308.9L885.5,315.9" stroke="#2a2a2a" stroke-width="0.95" fill="none"/>
<path d="M904.6,306.3L912.4,313.3M912.4,306.3L904.6,313.3" stroke="#2a2a2a" stroke-width="0.95" fill="none"/>
<path d="M923.7,307.7L931.5,314.7M931.5,307.7L923.7,314.7" stroke="#2a2a2a" stroke-width="0.95" fill="none"/>
<path d="M942.8,307.7L950.6,314.7M950.6,307.7L942.8,314.7" stroke="#2a2a2a" stroke-width="0.95" fill="none"/>
<path d="M961.9,310.2L969.7,317.2M969.7,310.2L961.9,317.2" stroke="#2a2a2a" stroke-width="0.95" fill="none"/>
<path d="M981.0,308.0L988.8,315.0M988.8,308.0L981.0,315.0" stroke="#2a2a2a" stroke-width="0.95" fill="none"/>
<path d="M1000.1,311.8L1007.9,318.8M1007.9,311.8L1000.1,318.8" stroke="#2a2a2a" stroke-width="0.95" fill="none"/>
<path d="M1019.2,313.3L1027.0,320.3M1027.0,313.3L1019.2,320.3" stroke="#2a2a2a" stroke-width="0.95" fill="none"/>
<path d="M1038.3,315.8L1046.1,322.8M1046.1,315.8L1038.3,322.8" stroke="#2a2a2a" stroke-width="0.95" fill="none"/>
<path d="M1057.4,314.9L1065.2,321.9M1065.2,314.9L1057.4,321.9" stroke="#2a2a2a" stroke-width="0.95" fill="none"/>
<path d="M1076.5,315.2L1084.3,322.2M1084.3,315.2L1076.5,322.2" stroke="#2a2a2a" stroke-width="0.95" fill="none"/>
<path d="M1095.6,313.0L1103.4,320.0M1103.4,313.0L1095.6,320.0" stroke="#2a2a2a" stroke-width="0.95" fill="none"/>
<path d="M1114.7,307.1L1122.5,314.1M1122.5,307.1L1114.7,314.1" stroke="#2a2a2a" stroke-width="0.95" fill="none"/>
<rect x="753.1" y="326.1" width="5.2" height="5.2" fill="none" stroke="#1a1a1a" stroke-width="1"/>
<rect x="772.2" y="327.4" width="5.2" height="5.2" fill="none" stroke="#1a1a1a" stroke-width="1"/>
<rect x="791.3" y="326.6" width="5.2" height="5.2" fill="none" stroke="#1a1a1a" stroke-width="1"/>
<rect x="810.4" y="326.1" width="5.2" height="5.2" fill="none" stroke="#1a1a1a" stroke-width="1"/>
<rect x="829.5" y="327.7" width="5.2" height="5.2" fill="none" stroke="#1a1a1a" stroke-width="1"/>
<rect x="848.6" y="324.6" width="5.2" height="5.2" fill="none" stroke="#1a1a1a" stroke-width="1"/>
<rect x="867.7" y="326.1" width="5.2" height="5.2" fill="none" stroke="#1a1a1a" stroke-width="1"/>
<rect x="886.8" y="326.8" width="5.2" height="5.2" fill="none" stroke="#1a1a1a" stroke-width="1"/>
<rect x="905.9" y="327.4" width="5.2" height="5.2" fill="none" stroke="#1a1a1a" stroke-width="1"/>
<rect x="925.0" y="327.4" width="5.2" height="5.2" fill="none" stroke="#1a1a1a" stroke-width="1"/>
<rect x="944.1" y="327.4" width="5.2" height="5.2" fill="none" stroke="#1a1a1a" stroke-width="1"/>
<rect x="963.2" y="326.8" width="5.2" height="5.2" fill="none" stroke="#1a1a1a" stroke-width="1"/>
<rect x="982.3" y="326.8" width="5.2" height="5.2" fill="none" stroke="#1a1a1a" stroke-width="1"/>
<rect x="1001.4" y="327.4" width="5.2" height="5.2" fill="none" stroke="#1a1a1a" stroke-width="1"/>
<rect x="1020.5" y="328.3" width="5.2" height="5.2" fill="none" stroke="#1a1a1a" stroke-width="1"/>
<rect x="1039.6" y="326.8" width="5.2" height="5.2" fill="none" stroke="#1a1a1a" stroke-width="1"/>
<rect x="1058.7" y="324.9" width="5.2" height="5.2" fill="none" stroke="#1a1a1a" stroke-width="1"/>
<rect x="1077.8" y="328.0" width="5.2" height="5.2" fill="none" stroke="#1a1a1a" stroke-width="1"/>
<rect x="1096.9" y="326.8" width="5.2" height="5.2" fill="none" stroke="#1a1a1a" stroke-width="1"/>
<rect x="1116.0" y="326.1" width="5.2" height="5.2" fill="none" stroke="#1a1a1a" stroke-width="1"/>
<path d="M755.7,329.5L758.8,335.1L752.6,335.1Z" fill="#1a1a1a"/>
<path d="M774.8,329.5L777.9,335.1L771.7,335.1Z" fill="#1a1a1a"/>
<path d="M793.9,329.5L797.0,335.1L790.8,335.1Z" fill="#1a1a1a"/>
<path d="M813.0,329.5L816.1,335.1L809.9,335.1Z" fill="#1a1a1a"/>
<path d="M832.1,329.5L835.2,335.1L829.0,335.1Z" fill="#1a1a1a"/>
<path d="M851.2,329.5L854.3,335.1L848.1,335.1Z" fill="#1a1a1a"/>
<path d="M870.3,329.5L873.4,335.1L867.2,335.1Z" fill="#1a1a1a"/>
<path d="M889.4,329.5L892.5,335.1L886.3,335.1Z" fill="#1a1a1a"/>
<path d="M908.5,329.5L911.6,335.1L905.4,335.1Z" fill="#1a1a1a"/>
<path d="M927.6,329.5L930.7,335.1L924.5,335.1Z" fill="#1a1a1a"/>
<path d="M946.7,329.5L949.8,335.1L943.6,335.1Z" fill="#1a1a1a"/>
<path d="M965.8,329.5L968.9,335.1L962.7,335.1Z" fill="#1a1a1a"/>
<path d="M984.9,329.5L988.0,335.1L981.8,335.1Z" fill="#1a1a1a"/>
<path d="M1004.0,329.5L1007.1,335.1L1000.9,335.1Z" fill="#1a1a1a"/>
<path d="M1023.1,329.5L1026.2,335.1L1020.0,335.1Z" fill="#1a1a1a"/>
<path d="M1042.2,329.5L1045.3,335.1L1039.1,335.1Z" fill="#1a1a1a"/>
<path d="M1061.3,329.5L1064.4,335.1L1058.2,335.1Z" fill="#1a1a1a"/>
<path d="M1080.4,329.5L1083.5,335.1L1077.3,335.1Z" fill="#1a1a1a"/>
<path d="M1099.5,329.5L1102.6,335.1L1096.4,335.1Z" fill="#1a1a1a"/>
<path d="M1118.6,329.5L1121.7,335.1L1115.5,335.1Z" fill="#1a1a1a"/>
<path d="M138.0,579.6C141.2,581.2 150.7,588.2 157.1,589.0C163.5,589.8 169.9,587.5 176.2,584.3C182.6,581.1 189.0,571.2 195.3,569.7C201.7,568.2 208.1,573.6 214.4,575.2C220.8,576.8 227.2,579.8 233.5,579.1C239.9,578.4 246.3,573.1 252.7,571.1C259.0,569.1 265.4,566.6 271.8,567.2C278.1,567.9 284.5,573.0 290.9,575.0C297.2,577.0 303.6,579.3 310.0,578.9C316.3,578.5 322.7,575.4 329.1,572.8C335.5,570.2 341.8,561.8 348.2,563.4C354.6,565.0 360.9,580.2 367.3,582.1C373.7,584.0 380.0,575.2 386.4,575.0C392.8,574.8 399.2,578.9 405.5,581.1C411.9,583.3 418.3,590.2 424.6,588.3C431.0,586.4 437.4,573.2 443.7,569.7C450.1,566.2 456.5,567.0 462.8,567.0C469.2,567.0 475.6,572.7 482.0,569.7C488.3,566.7 497.9,552.3 501.1,548.8" fill="none" stroke="#1a1a1a" stroke-width="1.15"/>
<path d="M138.0,587.1C141.2,589.4 150.7,599.4 157.1,600.7C163.5,602.1 169.9,598.7 176.2,595.2C182.6,591.7 189.0,580.0 195.3,579.9C201.7,579.8 208.1,592.7 214.4,594.5C220.8,596.3 227.2,592.9 233.5,590.5C239.9,588.1 246.3,580.5 252.7,579.9C259.0,579.2 265.4,585.3 271.8,586.6C278.1,587.9 284.5,587.7 290.9,587.7C297.2,587.8 303.6,587.9 310.0,586.9C316.3,585.9 322.7,584.4 329.1,581.9C335.5,579.4 341.8,570.5 348.2,571.7C354.6,572.9 360.9,583.4 367.3,589.0C373.7,594.6 380.0,604.2 386.4,605.4C392.8,606.6 399.2,595.9 405.5,596.0C411.9,596.1 418.3,607.8 424.6,605.9C431.0,604.0 437.4,590.1 443.7,584.6C450.1,579.1 456.5,571.1 462.8,572.8C469.2,574.5 475.6,595.1 482.0,594.8C488.3,594.5 497.9,574.9 501.1,570.9" fill="none" stroke="#1a1a1a" stroke-width="1.1"/>
<path d="M138.0,679.7C141.2,680.4 150.7,682.8 157.1,683.6C163.5,684.5 169.9,683.0 176.2,684.8C182.6,686.5 189.0,694.1 195.3,694.1C201.7,694.1 208.1,687.0 214.4,684.8C220.8,682.6 227.2,681.1 233.5,680.9C239.9,680.7 246.3,683.5 252.7,683.6C259.0,683.7 265.4,680.8 271.8,681.7C278.1,682.6 284.5,687.4 290.9,689.1C297.2,690.8 303.6,690.7 310.0,691.9C316.3,693.1 322.7,695.9 329.1,696.4C335.5,696.9 341.8,695.8 348.2,694.6C354.6,693.4 360.9,689.6 367.3,689.1C373.7,688.6 380.0,692.1 386.4,691.9C392.8,691.7 399.2,688.0 405.5,688.0C411.9,688.0 418.3,692.0 424.6,691.9C431.0,691.8 437.4,688.4 443.7,687.2C450.1,686.0 456.5,684.2 462.8,684.7C469.2,685.2 475.6,689.2 482.0,689.9C488.3,690.6 497.9,689.0 501.1,688.8" fill="none" stroke="#1a1a1a" stroke-width="1.15"/>
<path d="M138.0,701.3C141.2,701.0 150.7,699.4 157.1,699.3C163.5,699.2 169.9,701.2 176.2,700.8C182.6,700.3 189.0,697.4 195.3,696.6C201.7,695.8 208.1,696.3 214.4,695.8C220.8,695.3 227.2,693.8 233.5,693.5C239.9,693.2 246.3,692.9 252.7,693.8C259.0,694.7 265.4,698.5 271.8,698.8C278.1,699.1 284.5,695.7 290.9,695.8C297.2,695.9 303.6,699.6 310.0,699.3C316.3,699.0 322.7,693.1 329.1,693.8C335.5,694.4 341.8,702.1 348.2,703.2C354.6,704.3 360.9,701.3 367.3,700.5C373.7,699.7 380.0,698.7 386.4,698.5C392.8,698.3 399.2,698.9 405.5,699.3C411.9,699.7 418.3,700.9 424.6,700.8C431.0,700.7 437.4,698.3 443.7,698.8C450.1,699.2 456.5,703.5 462.8,703.5C469.2,703.5 475.6,698.9 482.0,698.5C488.3,698.1 497.9,700.8 501.1,701.3" fill="none" stroke="#2a2a2a" stroke-width="1.0"/>
<path d="M138.0,710.7C141.2,710.9 150.7,711.6 157.1,711.8C163.5,712.0 169.9,711.9 176.2,712.1C182.6,712.3 189.0,713.1 195.3,712.9C201.7,712.7 208.1,711.1 214.4,711.0C220.8,710.9 227.2,712.2 233.5,712.1C239.9,712.0 246.3,710.7 252.7,710.6C259.0,710.5 265.4,711.4 271.8,711.3C278.1,711.2 284.5,709.9 290.9,709.9C297.2,709.9 303.6,710.7 310.0,711.0C316.3,711.3 322.7,711.7 329.1,711.8C335.5,711.9 341.8,711.3 348.2,711.8C354.6,712.3 360.9,715.2 367.3,714.9C373.7,714.6 380.0,710.6 386.4,709.8C392.8,709.0 399.2,709.8 405.5,709.9C411.9,710.0 418.3,709.8 424.6,710.4C431.0,711.0 437.4,713.5 443.7,713.2C450.1,712.9 456.5,708.9 462.8,708.7C469.2,708.5 475.6,711.4 482.0,711.8C488.3,712.2 497.9,711.1 501.1,711.0" fill="none" stroke="#1a1a1a" stroke-width="1.0"/>
<path d="M138.0,713.4C141.2,713.4 150.7,713.3 157.1,713.4C163.5,713.5 169.9,713.7 176.2,713.8C182.6,713.9 189.0,713.8 195.3,713.8C201.7,713.8 208.1,713.8 214.4,713.8C220.8,713.8 227.2,714.0 233.5,713.8C239.9,713.5 246.3,712.4 252.7,712.3C259.0,712.2 265.4,713.2 271.8,713.2C278.1,713.2 284.5,712.6 290.9,712.6C297.2,712.6 303.6,712.9 310.0,713.2C316.3,713.5 322.7,714.0 329.1,714.2C335.5,714.4 341.8,714.3 348.2,714.2C354.6,714.1 360.9,714.0 367.3,713.4C373.7,712.8 380.0,710.9 386.4,710.6C392.8,710.3 399.2,711.4 405.5,711.5C411.9,711.6 418.3,711.1 424.6,711.5C431.0,711.9 437.4,714.0 443.7,713.8C450.1,713.6 456.5,710.3 462.8,710.4C469.2,710.5 475.6,713.8 482.0,714.2C488.3,714.6 497.9,713.1 501.1,712.9" fill="none" stroke="#1a1a1a" stroke-width="1.15"/>
<circle cx="138.0" cy="579.6" r="3.2" fill="#1a1a1a"/>
<circle cx="157.1" cy="589.0" r="3.2" fill="#1a1a1a"/>
<circle cx="176.2" cy="584.3" r="3.2" fill="#1a1a1a"/>
<circle cx="195.3" cy="569.7" r="3.2" fill="#1a1a1a"/>
<circle cx="214.4" cy="575.2" r="3.2" fill="#1a1a1a"/>
<circle cx="233.5" cy="579.1" r="3.2" fill="#1a1a1a"/>
<circle cx="252.7" cy="571.1" r="3.2" fill="#1a1a1a"/>
<circle cx="271.8" cy="567.2" r="3.2" fill="#1a1a1a"/>
<circle cx="290.9" cy="575.0" r="3.2" fill="#1a1a1a"/>
<circle cx="310.0" cy="578.9" r="3.2" fill="#1a1a1a"/>
<circle cx="329.1" cy="572.8" r="3.2" fill="#1a1a1a"/>
<circle cx="348.2" cy="563.4" r="3.2" fill="#1a1a1a"/>
<circle cx="367.3" cy="582.1" r="3.2" fill="#1a1a1a"/>
<circle cx="386.4" cy="575.0" r="3.2" fill="#1a1a1a"/>
<circle cx="405.5" cy="581.1" r="3.2" fill="#1a1a1a"/>
<circle cx="424.6" cy="588.3" r="3.2" fill="#1a1a1a"/>
<circle cx="443.7" cy="569.7" r="3.2" fill="#1a1a1a"/>
<circle cx="462.8" cy="567.0" r="3.2" fill="#1a1a1a"/>
<circle cx="482.0" cy="569.7" r="3.2" fill="#1a1a1a"/>
<circle cx="501.1" cy="548.8" r="3.2" fill="#1a1a1a"/>
<path d="M138.0,583.7L141.2,589.8L134.8,589.8Z" fill="#fff" stroke="#1a1a1a" stroke-width="1.15"/>
<path d="M157.1,597.3L160.3,603.4L153.9,603.4Z" fill="#fff" stroke="#1a1a1a" stroke-width="1.15"/>
<path d="M176.2,591.8L179.4,597.9L173.0,597.9Z" fill="#fff" stroke="#1a1a1a" stroke-width="1.15"/>
<path d="M195.3,576.5L198.5,582.6L192.1,582.6Z" fill="#fff" stroke="#1a1a1a" stroke-width="1.15"/>
<path d="M214.4,591.1L217.6,597.2L211.2,597.2Z" fill="#fff" stroke="#1a1a1a" stroke-width="1.15"/>
<path d="M233.5,587.1L236.7,593.2L230.3,593.2Z" fill="#fff" stroke="#1a1a1a" stroke-width="1.15"/>
<path d="M252.7,576.5L255.9,582.6L249.5,582.6Z" fill="#fff" stroke="#1a1a1a" stroke-width="1.15"/>
<path d="M271.8,583.2L275.0,589.3L268.6,589.3Z" fill="#fff" stroke="#1a1a1a" stroke-width="1.15"/>
<path d="M290.9,584.3L294.1,590.4L287.7,590.4Z" fill="#fff" stroke="#1a1a1a" stroke-width="1.15"/>
<path d="M310.0,583.5L313.2,589.6L306.8,589.6Z" fill="#fff" stroke="#1a1a1a" stroke-width="1.15"/>
<path d="M329.1,578.5L332.3,584.6L325.9,584.6Z" fill="#fff" stroke="#1a1a1a" stroke-width="1.15"/>
<path d="M348.2,568.3L351.4,574.4L345.0,574.4Z" fill="#fff" stroke="#1a1a1a" stroke-width="1.15"/>
<path d="M367.3,585.6L370.5,591.7L364.1,591.7Z" fill="#fff" stroke="#1a1a1a" stroke-width="1.15"/>
<path d="M386.4,602.0L389.6,608.1L383.2,608.1Z" fill="#fff" stroke="#1a1a1a" stroke-width="1.15"/>
<path d="M405.5,592.6L408.7,598.7L402.3,598.7Z" fill="#fff" stroke="#1a1a1a" stroke-width="1.15"/>
<path d="M424.6,602.5L427.8,608.6L421.4,608.6Z" fill="#fff" stroke="#1a1a1a" stroke-width="1.15"/>
<path d="M443.7,581.2L446.9,587.3L440.5,587.3Z" fill="#fff" stroke="#1a1a1a" stroke-width="1.15"/>
<path d="M462.8,569.4L466.0,575.5L459.6,575.5Z" fill="#fff" stroke="#1a1a1a" stroke-width="1.15"/>
<path d="M482.0,591.4L485.2,597.5L478.8,597.5Z" fill="#fff" stroke="#1a1a1a" stroke-width="1.15"/>
<path d="M501.1,567.5L504.3,573.6L497.9,573.6Z" fill="#fff" stroke="#1a1a1a" stroke-width="1.15"/>
<path d="M138.0,675.8L141.5,679.7L138.0,683.6L134.5,679.7Z" fill="#1a1a1a"/>
<path d="M157.1,679.7L160.6,683.6L157.1,687.5L153.6,683.6Z" fill="#1a1a1a"/>
<path d="M176.2,680.9L179.7,684.8L176.2,688.7L172.7,684.8Z" fill="#1a1a1a"/>
<path d="M195.3,690.2L198.8,694.1L195.3,698.0L191.8,694.1Z" fill="#1a1a1a"/>
<path d="M214.4,680.9L217.9,684.8L214.4,688.7L210.9,684.8Z" fill="#1a1a1a"/>
<path d="M233.5,677.0L237.0,680.9L233.5,684.8L230.0,680.9Z" fill="#1a1a1a"/>
<path d="M252.7,679.7L256.2,683.6L252.7,687.5L249.2,683.6Z" fill="#1a1a1a"/>
<path d="M271.8,677.8L275.3,681.7L271.8,685.6L268.3,681.7Z" fill="#1a1a1a"/>
<path d="M290.9,685.2L294.4,689.1L290.9,693.0L287.4,689.1Z" fill="#1a1a1a"/>
<path d="M310.0,688.0L313.5,691.9L310.0,695.8L306.5,691.9Z" fill="#1a1a1a"/>
<path d="M329.1,692.5L332.6,696.4L329.1,700.3L325.6,696.4Z" fill="#1a1a1a"/>
<path d="M348.2,690.7L351.7,694.6L348.2,698.5L344.7,694.6Z" fill="#1a1a1a"/>
<path d="M367.3,685.2L370.8,689.1L367.3,693.0L363.8,689.1Z" fill="#1a1a1a"/>
<path d="M386.4,688.0L389.9,691.9L386.4,695.8L382.9,691.9Z" fill="#1a1a1a"/>
<path d="M405.5,684.1L409.0,688.0L405.5,691.9L402.0,688.0Z" fill="#1a1a1a"/>
<path d="M424.6,688.0L428.1,691.9L424.6,695.8L421.1,691.9Z" fill="#1a1a1a"/>
<path d="M443.7,683.3L447.2,687.2L443.7,691.1L440.2,687.2Z" fill="#1a1a1a"/>
<path d="M462.8,680.8L466.3,684.7L462.8,688.6L459.3,684.7Z" fill="#1a1a1a"/>
<path d="M482.0,686.0L485.5,689.9L482.0,693.8L478.5,689.9Z" fill="#1a1a1a"/>
<path d="M501.1,684.9L504.6,688.8L501.1,692.7L497.6,688.8Z" fill="#1a1a1a"/>
<path d="M134.1,697.8L141.9,704.8M141.9,697.8L134.1,704.8" stroke="#2a2a2a" stroke-width="0.95" fill="none"/>
<path d="M153.2,695.8L161.0,702.8M161.0,695.8L153.2,702.8" stroke="#2a2a2a" stroke-width="0.95" fill="none"/>
<path d="M172.3,697.3L180.1,704.3M180.1,697.3L172.3,704.3" stroke="#2a2a2a" stroke-width="0.95" fill="none"/>
<path d="M191.4,693.1L199.2,700.1M199.2,693.1L191.4,700.1" stroke="#2a2a2a" stroke-width="0.95" fill="none"/>
<path d="M210.5,692.3L218.3,699.3M218.3,692.3L210.5,699.3" stroke="#2a2a2a" stroke-width="0.95" fill="none"/>
<path d="M229.6,690.0L237.4,697.0M237.4,690.0L229.6,697.0" stroke="#2a2a2a" stroke-width="0.95" fill="none"/>
<path d="M248.8,690.3L256.6,697.3M256.6,690.3L248.8,697.3" stroke="#2a2a2a" stroke-width="0.95" fill="none"/>
<path d="M267.9,695.3L275.7,702.3M275.7,695.3L267.9,702.3" stroke="#2a2a2a" stroke-width="0.95" fill="none"/>
<path d="M287.0,692.3L294.8,699.3M294.8,692.3L287.0,699.3" stroke="#2a2a2a" stroke-width="0.95" fill="none"/>
<path d="M306.1,695.8L313.9,702.8M313.9,695.8L306.1,702.8" stroke="#2a2a2a" stroke-width="0.95" fill="none"/>
<path d="M325.2,690.3L333.0,697.3M333.0,690.3L325.2,697.3" stroke="#2a2a2a" stroke-width="0.95" fill="none"/>
<path d="M344.3,699.7L352.1,706.7M352.1,699.7L344.3,706.7" stroke="#2a2a2a" stroke-width="0.95" fill="none"/>
<path d="M363.4,697.0L371.2,704.0M371.2,697.0L363.4,704.0" stroke="#2a2a2a" stroke-width="0.95" fill="none"/>
<path d="M382.5,695.0L390.3,702.0M390.3,695.0L382.5,702.0" stroke="#2a2a2a" stroke-width="0.95" fill="none"/>
<path d="M401.6,695.8L409.4,702.8M409.4,695.8L401.6,702.8" stroke="#2a2a2a" stroke-width="0.95" fill="none"/>
<path d="M420.7,697.3L428.5,704.3M428.5,697.3L420.7,704.3" stroke="#2a2a2a" stroke-width="0.95" fill="none"/>
<path d="M439.8,695.3L447.6,702.3M447.6,695.3L439.8,702.3" stroke="#2a2a2a" stroke-width="0.95" fill="none"/>
<path d="M458.9,700.0L466.7,707.0M466.7,700.0L458.9,707.0" stroke="#2a2a2a" stroke-width="0.95" fill="none"/>
<path d="M478.1,695.0L485.9,702.0M485.9,695.0L478.1,702.0" stroke="#2a2a2a" stroke-width="0.95" fill="none"/>
<path d="M497.2,697.8L505.0,704.8M505.0,697.8L497.2,704.8" stroke="#2a2a2a" stroke-width="0.95" fill="none"/>
<rect x="135.4" y="708.1" width="5.2" height="5.2" fill="none" stroke="#1a1a1a" stroke-width="1"/>
<rect x="154.5" y="709.2" width="5.2" height="5.2" fill="none" stroke="#1a1a1a" stroke-width="1"/>
<rect x="173.6" y="709.5" width="5.2" height="5.2" fill="none" stroke="#1a1a1a" stroke-width="1"/>
<rect x="192.7" y="710.3" width="5.2" height="5.2" fill="none" stroke="#1a1a1a" stroke-width="1"/>
<rect x="211.8" y="708.4" width="5.2" height="5.2" fill="none" stroke="#1a1a1a" stroke-width="1"/>
<rect x="230.9" y="709.5" width="5.2" height="5.2" fill="none" stroke="#1a1a1a" stroke-width="1"/>
<rect x="250.1" y="708.0" width="5.2" height="5.2" fill="none" stroke="#1a1a1a" stroke-width="1"/>
<rect x="269.2" y="708.7" width="5.2" height="5.2" fill="none" stroke="#1a1a1a" stroke-width="1"/>
<rect x="288.3" y="707.3" width="5.2" height="5.2" fill="none" stroke="#1a1a1a" stroke-width="1"/>
<rect x="307.4" y="708.4" width="5.2" height="5.2" fill="none" stroke="#1a1a1a" stroke-width="1"/>
<rect x="326.5" y="709.2" width="5.2" height="5.2" fill="none" stroke="#1a1a1a" stroke-width="1"/>
<rect x="345.6" y="709.2" width="5.2" height="5.2" fill="none" stroke="#1a1a1a" stroke-width="1"/>
<rect x="364.7" y="712.3" width="5.2" height="5.2" fill="none" stroke="#1a1a1a" stroke-width="1"/>
<rect x="383.8" y="707.2" width="5.2" height="5.2" fill="none" stroke="#1a1a1a" stroke-width="1"/>
<rect x="402.9" y="707.3" width="5.2" height="5.2" fill="none" stroke="#1a1a1a" stroke-width="1"/>
<rect x="422.0" y="707.8" width="5.2" height="5.2" fill="none" stroke="#1a1a1a" stroke-width="1"/>
<rect x="441.1" y="710.6" width="5.2" height="5.2" fill="none" stroke="#1a1a1a" stroke-width="1"/>
<rect x="460.2" y="706.1" width="5.2" height="5.2" fill="none" stroke="#1a1a1a" stroke-width="1"/>
<rect x="479.4" y="709.2" width="5.2" height="5.2" fill="none" stroke="#1a1a1a" stroke-width="1"/>
<rect x="498.5" y="708.4" width="5.2" height="5.2" fill="none" stroke="#1a1a1a" stroke-width="1"/>
<path d="M138.0,710.1L141.1,715.7L134.9,715.7Z" fill="#1a1a1a"/>
<path d="M157.1,710.1L160.2,715.7L154.0,715.7Z" fill="#1a1a1a"/>
<path d="M176.2,710.5L179.3,716.1L173.1,716.1Z" fill="#1a1a1a"/>
<path d="M195.3,710.5L198.4,716.1L192.2,716.1Z" fill="#1a1a1a"/>
<path d="M214.4,710.5L217.5,716.1L211.3,716.1Z" fill="#1a1a1a"/>
<path d="M233.5,710.5L236.6,716.1L230.4,716.1Z" fill="#1a1a1a"/>
<path d="M252.7,709.0L255.8,714.6L249.6,714.6Z" fill="#1a1a1a"/>
<path d="M271.8,709.9L274.9,715.5L268.7,715.5Z" fill="#1a1a1a"/>
<path d="M290.9,709.3L294.0,714.9L287.8,714.9Z" fill="#1a1a1a"/>
<path d="M310.0,709.9L313.1,715.5L306.9,715.5Z" fill="#1a1a1a"/>
<path d="M329.1,710.9L332.2,716.5L326.0,716.5Z" fill="#1a1a1a"/>
<path d="M348.2,710.9L351.3,716.5L345.1,716.5Z" fill="#1a1a1a"/>
<path d="M367.3,710.1L370.4,715.7L364.2,715.7Z" fill="#1a1a1a"/>
<path d="M386.4,707.3L389.5,712.9L383.3,712.9Z" fill="#1a1a1a"/>
<path d="M405.5,708.2L408.6,713.8L402.4,713.8Z" fill="#1a1a1a"/>
<path d="M424.6,708.2L427.7,713.8L421.5,713.8Z" fill="#1a1a1a"/>
<path d="M443.7,710.5L446.8,716.1L440.6,716.1Z" fill="#1a1a1a"/>
<path d="M462.8,707.1L465.9,712.7L459.7,712.7Z" fill="#1a1a1a"/>
<path d="M482.0,710.9L485.1,716.5L478.9,716.5Z" fill="#1a1a1a"/>
<path d="M501.1,709.6L504.2,715.2L498.0,715.2Z" fill="#1a1a1a"/>
<path d="M755.4,546.7C758.6,544.2 768.2,537.0 774.6,531.8C780.9,526.6 787.3,515.8 793.7,515.6C800.1,515.4 806.4,527.7 812.8,530.4C819.2,533.1 825.6,535.1 831.9,531.8C838.3,528.5 844.7,509.1 851.1,510.4C857.5,511.7 863.8,536.4 870.2,539.8C876.6,543.1 883.0,538.6 889.3,530.5C895.7,522.4 902.1,491.1 908.5,491.0C914.8,490.9 921.2,521.0 927.6,529.6C934.0,538.2 940.4,541.6 946.7,542.6C953.1,543.6 959.5,544.4 965.9,535.8C972.2,527.2 978.6,495.8 985.0,491.0C991.4,486.2 997.7,503.2 1004.1,507.3C1010.5,511.4 1016.9,510.9 1023.2,515.6C1029.6,520.3 1036.0,531.6 1042.4,535.7C1048.8,539.8 1055.1,541.9 1061.5,540.4C1067.9,538.9 1074.3,526.2 1080.6,526.6C1087.0,527.0 1093.4,544.3 1099.8,542.6C1106.1,540.9 1115.7,520.8 1118.9,516.4" fill="none" stroke="#1a1a1a" stroke-width="1.15"/>
<path d="M755.4,564.2C758.6,567.5 768.2,581.8 774.6,583.8C780.9,585.8 787.3,574.6 793.7,576.0C800.1,577.4 806.4,593.4 812.8,592.4C819.2,591.4 825.6,573.7 831.9,569.7C838.3,565.7 844.7,564.5 851.1,568.4C857.5,572.3 863.8,593.1 870.2,593.2C876.6,593.3 883.0,573.9 889.3,568.9C895.7,563.9 902.1,560.0 908.5,563.1C914.8,566.2 921.2,585.0 927.6,587.2C934.0,589.4 940.4,581.4 946.7,576.3C953.1,571.2 959.5,553.6 965.9,556.7C972.2,559.8 978.6,595.2 985.0,595.1C991.4,595.0 997.7,560.6 1004.1,555.9C1010.5,551.2 1016.9,564.9 1023.2,566.9C1029.6,568.9 1036.0,566.6 1042.4,568.1C1048.8,569.6 1055.1,575.9 1061.5,576.0C1067.9,576.1 1074.3,569.6 1080.6,568.9C1087.0,568.2 1093.4,573.1 1099.8,571.6C1106.1,570.1 1115.7,561.7 1118.9,559.7" fill="none" stroke="#1a1a1a" stroke-width="1.1"/>
<path d="M755.4,641.5C758.6,641.3 768.2,638.7 774.6,640.2C780.9,641.7 787.3,650.0 793.7,650.4C800.1,650.8 806.4,644.3 812.8,642.6C819.2,640.9 825.6,640.2 831.9,640.2C838.3,640.2 844.7,641.0 851.1,642.6C857.5,644.2 863.8,648.5 870.2,649.6C876.6,650.7 883.0,650.4 889.3,649.0C895.7,647.6 902.1,642.3 908.5,641.5C914.8,640.7 921.2,644.9 927.6,644.3C934.0,643.7 940.4,639.8 946.7,638.0C953.1,636.2 959.5,633.4 965.9,633.3C972.2,633.1 978.6,634.8 985.0,637.1C991.4,639.4 997.7,648.2 1004.1,647.3C1010.5,646.4 1016.9,632.6 1023.2,631.7C1029.6,630.8 1036.0,639.2 1042.4,641.8C1048.8,644.4 1055.1,648.7 1061.5,647.3C1067.9,645.9 1074.3,634.5 1080.6,633.2C1087.0,631.9 1093.4,638.2 1099.8,639.6C1106.1,641.0 1115.7,641.4 1118.9,641.8" fill="none" stroke="#1a1a1a" stroke-width="1.15"/>
<path d="M755.4,649.8C758.6,649.5 768.2,646.9 774.6,648.2C780.9,649.6 787.3,656.9 793.7,657.9C800.1,658.9 806.4,656.0 812.8,654.0C819.2,652.0 825.6,646.0 831.9,646.2C838.3,646.4 844.7,653.1 851.1,655.3C857.5,657.5 863.8,658.2 870.2,659.2C876.6,660.2 883.0,662.7 889.3,661.1C895.7,659.5 902.1,651.4 908.5,649.8C914.8,648.1 921.2,651.1 927.6,651.2C934.0,651.3 940.4,650.7 946.7,650.4C953.1,650.1 959.5,649.9 965.9,649.3C972.2,648.7 978.6,645.7 985.0,646.6C991.4,647.5 997.7,654.8 1004.1,654.5C1010.5,654.2 1016.9,644.5 1023.2,645.1C1029.6,645.7 1036.0,656.6 1042.4,657.9C1048.8,659.2 1055.1,654.8 1061.5,652.9C1067.9,651.0 1074.3,647.5 1080.6,646.6C1087.0,645.7 1093.4,647.2 1099.8,647.7C1106.1,648.2 1115.7,649.0 1118.9,649.3" fill="none" stroke="#2a2a2a" stroke-width="1.0"/>
<path d="M755.4,678.8C758.6,678.9 768.2,679.6 774.6,679.2C780.9,678.9 787.3,678.1 793.7,676.7C800.1,675.3 806.4,671.7 812.8,670.9C819.2,670.1 825.6,671.2 831.9,672.0C838.3,672.8 844.7,674.3 851.1,675.5C857.5,676.7 863.8,678.8 870.2,679.4C876.6,680.0 883.0,679.7 889.3,679.4C895.7,679.1 902.1,677.0 908.5,677.5C914.8,678.0 921.2,682.2 927.6,682.2C934.0,682.2 940.4,678.1 946.7,677.5C953.1,676.9 959.5,678.3 965.9,678.6C972.2,678.9 978.6,679.4 985.0,679.4C991.4,679.4 997.7,679.4 1004.1,678.8C1010.5,678.1 1016.9,675.9 1023.2,675.5C1029.6,675.1 1036.0,676.0 1042.4,676.7C1048.8,677.4 1055.1,679.0 1061.5,679.9C1067.9,680.8 1074.3,682.3 1080.6,682.2C1087.0,682.1 1093.4,680.1 1099.8,679.4C1106.1,678.7 1115.7,678.1 1118.9,677.8" fill="none" stroke="#1a1a1a" stroke-width="1.0"/>
<path d="M755.4,683.3C758.6,683.0 768.2,680.8 774.6,681.4C780.9,682.0 787.3,686.9 793.7,686.6C800.1,686.4 806.4,679.9 812.8,679.9C819.2,679.9 825.6,685.8 831.9,686.6C838.3,687.5 844.7,684.9 851.1,685.0C857.5,685.1 863.8,687.3 870.2,687.4C876.6,687.5 883.0,686.3 889.3,685.8C895.7,685.3 902.1,684.1 908.5,684.2C914.8,684.3 921.2,686.4 927.6,686.4C934.0,686.4 940.4,684.2 946.7,684.2C953.1,684.2 959.5,686.3 965.9,686.6C972.2,686.9 978.6,686.4 985.0,686.1C991.4,685.8 997.7,685.5 1004.1,685.0C1010.5,684.5 1016.9,683.5 1023.2,683.0C1029.6,682.5 1036.0,681.1 1042.4,681.7C1048.8,682.3 1055.1,685.8 1061.5,686.6C1067.9,687.4 1074.3,686.7 1080.6,686.6C1087.0,686.5 1093.4,686.1 1099.8,685.8C1106.1,685.5 1115.7,684.8 1118.9,684.6" fill="none" stroke="#1a1a1a" stroke-width="1.15"/>
<circle cx="755.4" cy="546.7" r="3.2" fill="#1a1a1a"/>
<circle cx="774.6" cy="531.8" r="3.2" fill="#1a1a1a"/>
<circle cx="793.7" cy="515.6" r="3.2" fill="#1a1a1a"/>
<circle cx="812.8" cy="530.4" r="3.2" fill="#1a1a1a"/>
<circle cx="831.9" cy="531.8" r="3.2" fill="#1a1a1a"/>
<circle cx="851.1" cy="510.4" r="3.2" fill="#1a1a1a"/>
<circle cx="870.2" cy="539.8" r="3.2" fill="#1a1a1a"/>
<circle cx="889.3" cy="530.5" r="3.2" fill="#1a1a1a"/>
<circle cx="908.5" cy="491.0" r="3.2" fill="#1a1a1a"/>
<circle cx="927.6" cy="529.6" r="3.2" fill="#1a1a1a"/>
<circle cx="946.7" cy="542.6" r="3.2" fill="#1a1a1a"/>
<circle cx="965.9" cy="535.8" r="3.2" fill="#1a1a1a"/>
<circle cx="985.0" cy="491.0" r="3.2" fill="#1a1a1a"/>
<circle cx="1004.1" cy="507.3" r="3.2" fill="#1a1a1a"/>
<circle cx="1023.2" cy="515.6" r="3.2" fill="#1a1a1a"/>
<circle cx="1042.4" cy="535.7" r="3.2" fill="#1a1a1a"/>
<circle cx="1061.5" cy="540.4" r="3.2" fill="#1a1a1a"/>
<circle cx="1080.6" cy="526.6" r="3.2" fill="#1a1a1a"/>
<circle cx="1099.8" cy="542.6" r="3.2" fill="#1a1a1a"/>
<circle cx="1118.9" cy="516.4" r="3.2" fill="#1a1a1a"/>
<path d="M755.4,560.8L758.6,566.9L752.2,566.9Z" fill="#fff" stroke="#1a1a1a" stroke-width="1.15"/>
<path d="M774.6,580.4L777.8,586.5L771.4,586.5Z" fill="#fff" stroke="#1a1a1a" stroke-width="1.15"/>
<path d="M793.7,572.6L796.9,578.7L790.5,578.7Z" fill="#fff" stroke="#1a1a1a" stroke-width="1.15"/>
<path d="M812.8,589.0L816.0,595.1L809.6,595.1Z" fill="#fff" stroke="#1a1a1a" stroke-width="1.15"/>
<path d="M831.9,566.3L835.1,572.4L828.7,572.4Z" fill="#fff" stroke="#1a1a1a" stroke-width="1.15"/>
<path d="M851.1,565.0L854.3,571.1L847.9,571.1Z" fill="#fff" stroke="#1a1a1a" stroke-width="1.15"/>
<path d="M870.2,589.8L873.4,595.9L867.0,595.9Z" fill="#fff" stroke="#1a1a1a" stroke-width="1.15"/>
<path d="M889.3,565.5L892.5,571.6L886.1,571.6Z" fill="#fff" stroke="#1a1a1a" stroke-width="1.15"/>
<path d="M908.5,559.7L911.7,565.8L905.3,565.8Z" fill="#fff" stroke="#1a1a1a" stroke-width="1.15"/>
<path d="M927.6,583.8L930.8,589.9L924.4,589.9Z" fill="#fff" stroke="#1a1a1a" stroke-width="1.15"/>
<path d="M946.7,572.9L949.9,579.0L943.5,579.0Z" fill="#fff" stroke="#1a1a1a" stroke-width="1.15"/>
<path d="M965.9,553.3L969.1,559.4L962.7,559.4Z" fill="#fff" stroke="#1a1a1a" stroke-width="1.15"/>
<path d="M985.0,591.7L988.2,597.8L981.8,597.8Z" fill="#fff" stroke="#1a1a1a" stroke-width="1.15"/>
<path d="M1004.1,552.5L1007.3,558.6L1000.9,558.6Z" fill="#fff" stroke="#1a1a1a" stroke-width="1.15"/>
<path d="M1023.2,563.5L1026.5,569.6L1020.0,569.6Z" fill="#fff" stroke="#1a1a1a" stroke-width="1.15"/>
<path d="M1042.4,564.7L1045.6,570.8L1039.2,570.8Z" fill="#fff" stroke="#1a1a1a" stroke-width="1.15"/>
<path d="M1061.5,572.6L1064.7,578.7L1058.3,578.7Z" fill="#fff" stroke="#1a1a1a" stroke-width="1.15"/>
<path d="M1080.6,565.5L1083.8,571.6L1077.4,571.6Z" fill="#fff" stroke="#1a1a1a" stroke-width="1.15"/>
<path d="M1099.8,568.2L1103.0,574.3L1096.6,574.3Z" fill="#fff" stroke="#1a1a1a" stroke-width="1.15"/>
<path d="M1118.9,556.3L1122.1,562.4L1115.7,562.4Z" fill="#fff" stroke="#1a1a1a" stroke-width="1.15"/>
<path d="M755.4,637.6L758.9,641.5L755.4,645.4L751.9,641.5Z" fill="#1a1a1a"/>
<path d="M774.6,636.3L778.1,640.2L774.6,644.1L771.1,640.2Z" fill="#1a1a1a"/>
<path d="M793.7,646.5L797.2,650.4L793.7,654.3L790.2,650.4Z" fill="#1a1a1a"/>
<path d="M812.8,638.7L816.3,642.6L812.8,646.5L809.3,642.6Z" fill="#1a1a1a"/>
<path d="M831.9,636.3L835.4,640.2L831.9,644.1L828.4,640.2Z" fill="#1a1a1a"/>
<path d="M851.1,638.7L854.6,642.6L851.1,646.5L847.6,642.6Z" fill="#1a1a1a"/>
<path d="M870.2,645.7L873.7,649.6L870.2,653.5L866.7,649.6Z" fill="#1a1a1a"/>
<path d="M889.3,645.1L892.8,649.0L889.3,652.9L885.8,649.0Z" fill="#1a1a1a"/>
<path d="M908.5,637.6L912.0,641.5L908.5,645.4L905.0,641.5Z" fill="#1a1a1a"/>
<path d="M927.6,640.4L931.1,644.3L927.6,648.2L924.1,644.3Z" fill="#1a1a1a"/>
<path d="M946.7,634.1L950.2,638.0L946.7,641.9L943.2,638.0Z" fill="#1a1a1a"/>
<path d="M965.9,629.4L969.4,633.3L965.9,637.2L962.4,633.3Z" fill="#1a1a1a"/>
<path d="M985.0,633.2L988.5,637.1L985.0,641.0L981.5,637.1Z" fill="#1a1a1a"/>
<path d="M1004.1,643.4L1007.6,647.3L1004.1,651.2L1000.6,647.3Z" fill="#1a1a1a"/>
<path d="M1023.2,627.8L1026.8,631.7L1023.2,635.6L1019.8,631.7Z" fill="#1a1a1a"/>
<path d="M1042.4,637.9L1045.9,641.8L1042.4,645.7L1038.9,641.8Z" fill="#1a1a1a"/>
<path d="M1061.5,643.4L1065.0,647.3L1061.5,651.2L1058.0,647.3Z" fill="#1a1a1a"/>
<path d="M1080.6,629.3L1084.1,633.2L1080.6,637.1L1077.1,633.2Z" fill="#1a1a1a"/>
<path d="M1099.8,635.7L1103.3,639.6L1099.8,643.5L1096.3,639.6Z" fill="#1a1a1a"/>
<path d="M1118.9,637.9L1122.4,641.8L1118.9,645.7L1115.4,641.8Z" fill="#1a1a1a"/>
<path d="M751.5,646.3L759.3,653.3M759.3,646.3L751.5,653.3" stroke="#2a2a2a" stroke-width="0.95" fill="none"/>
<path d="M770.7,644.7L778.5,651.7M778.5,644.7L770.7,651.7" stroke="#2a2a2a" stroke-width="0.95" fill="none"/>
<path d="M789.8,654.4L797.6,661.4M797.6,654.4L789.8,661.4" stroke="#2a2a2a" stroke-width="0.95" fill="none"/>
<path d="M808.9,650.5L816.7,657.5M816.7,650.5L808.9,657.5" stroke="#2a2a2a" stroke-width="0.95" fill="none"/>
<path d="M828.0,642.7L835.8,649.7M835.8,642.7L828.0,649.7" stroke="#2a2a2a" stroke-width="0.95" fill="none"/>
<path d="M847.2,651.8L855.0,658.8M855.0,651.8L847.2,658.8" stroke="#2a2a2a" stroke-width="0.95" fill="none"/>
<path d="M866.3,655.7L874.1,662.7M874.1,655.7L866.3,662.7" stroke="#2a2a2a" stroke-width="0.95" fill="none"/>
<path d="M885.4,657.6L893.2,664.6M893.2,657.6L885.4,664.6" stroke="#2a2a2a" stroke-width="0.95" fill="none"/>
<path d="M904.6,646.3L912.4,653.3M912.4,646.3L904.6,653.3" stroke="#2a2a2a" stroke-width="0.95" fill="none"/>
<path d="M923.7,647.7L931.5,654.7M931.5,647.7L923.7,654.7" stroke="#2a2a2a" stroke-width="0.95" fill="none"/>
<path d="M942.8,646.9L950.6,653.9M950.6,646.9L942.8,653.9" stroke="#2a2a2a" stroke-width="0.95" fill="none"/>
<path d="M962.0,645.8L969.8,652.8M969.8,645.8L962.0,652.8" stroke="#2a2a2a" stroke-width="0.95" fill="none"/>
<path d="M981.1,643.1L988.9,650.1M988.9,643.1L981.1,650.1" stroke="#2a2a2a" stroke-width="0.95" fill="none"/>
<path d="M1000.2,651.0L1008.0,658.0M1008.0,651.0L1000.2,658.0" stroke="#2a2a2a" stroke-width="0.95" fill="none"/>
<path d="M1019.4,641.6L1027.2,648.6M1027.2,641.6L1019.4,648.6" stroke="#2a2a2a" stroke-width="0.95" fill="none"/>
<path d="M1038.5,654.4L1046.3,661.4M1046.3,654.4L1038.5,661.4" stroke="#2a2a2a" stroke-width="0.95" fill="none"/>
<path d="M1057.6,649.4L1065.4,656.4M1065.4,649.4L1057.6,656.4" stroke="#2a2a2a" stroke-width="0.95" fill="none"/>
<path d="M1076.7,643.1L1084.5,650.1M1084.5,643.1L1076.7,650.1" stroke="#2a2a2a" stroke-width="0.95" fill="none"/>
<path d="M1095.9,644.2L1103.7,651.2M1103.7,644.2L1095.9,651.2" stroke="#2a2a2a" stroke-width="0.95" fill="none"/>
<path d="M1115.0,645.8L1122.8,652.8M1122.8,645.8L1115.0,652.8" stroke="#2a2a2a" stroke-width="0.95" fill="none"/>
<rect x="752.8" y="676.2" width="5.2" height="5.2" fill="#fff" stroke="#1a1a1a" stroke-width="1"/>
<rect x="772.0" y="676.6" width="5.2" height="5.2" fill="#fff" stroke="#1a1a1a" stroke-width="1"/>
<rect x="791.1" y="674.1" width="5.2" height="5.2" fill="#fff" stroke="#1a1a1a" stroke-width="1"/>
<rect x="810.2" y="668.3" width="5.2" height="5.2" fill="#fff" stroke="#1a1a1a" stroke-width="1"/>
<rect x="829.3" y="669.4" width="5.2" height="5.2" fill="#fff" stroke="#1a1a1a" stroke-width="1"/>
<rect x="848.5" y="672.9" width="5.2" height="5.2" fill="#fff" stroke="#1a1a1a" stroke-width="1"/>
<rect x="867.6" y="676.8" width="5.2" height="5.2" fill="#fff" stroke="#1a1a1a" stroke-width="1"/>
<rect x="886.7" y="676.8" width="5.2" height="5.2" fill="#fff" stroke="#1a1a1a" stroke-width="1"/>
<rect x="905.9" y="674.9" width="5.2" height="5.2" fill="#fff" stroke="#1a1a1a" stroke-width="1"/>
<rect x="925.0" y="679.6" width="5.2" height="5.2" fill="#fff" stroke="#1a1a1a" stroke-width="1"/>
<rect x="944.1" y="674.9" width="5.2" height="5.2" fill="#fff" stroke="#1a1a1a" stroke-width="1"/>
<rect x="963.3" y="676.0" width="5.2" height="5.2" fill="#fff" stroke="#1a1a1a" stroke-width="1"/>
<rect x="982.4" y="676.8" width="5.2" height="5.2" fill="#fff" stroke="#1a1a1a" stroke-width="1"/>
<rect x="1001.5" y="676.2" width="5.2" height="5.2" fill="#fff" stroke="#1a1a1a" stroke-width="1"/>
<rect x="1020.6" y="672.9" width="5.2" height="5.2" fill="#fff" stroke="#1a1a1a" stroke-width="1"/>
<rect x="1039.8" y="674.1" width="5.2" height="5.2" fill="#fff" stroke="#1a1a1a" stroke-width="1"/>
<rect x="1058.9" y="677.3" width="5.2" height="5.2" fill="#fff" stroke="#1a1a1a" stroke-width="1"/>
<rect x="1078.0" y="679.6" width="5.2" height="5.2" fill="#fff" stroke="#1a1a1a" stroke-width="1"/>
<rect x="1097.2" y="676.8" width="5.2" height="5.2" fill="#fff" stroke="#1a1a1a" stroke-width="1"/>
<rect x="1116.3" y="675.2" width="5.2" height="5.2" fill="#fff" stroke="#1a1a1a" stroke-width="1"/>
<path d="M755.4,680.0L758.5,685.6L752.3,685.6Z" fill="#1a1a1a"/>
<path d="M774.6,678.1L777.7,683.7L771.5,683.7Z" fill="#1a1a1a"/>
<path d="M793.7,683.3L796.8,688.9L790.6,688.9Z" fill="#1a1a1a"/>
<path d="M812.8,676.6L815.9,682.2L809.7,682.2Z" fill="#1a1a1a"/>
<path d="M831.9,683.3L835.0,688.9L828.8,688.9Z" fill="#1a1a1a"/>
<path d="M851.1,681.7L854.2,687.3L848.0,687.3Z" fill="#1a1a1a"/>
<path d="M870.2,684.1L873.3,689.7L867.1,689.7Z" fill="#1a1a1a"/>
<path d="M889.3,682.5L892.4,688.1L886.2,688.1Z" fill="#1a1a1a"/>
<path d="M908.5,680.9L911.6,686.5L905.4,686.5Z" fill="#1a1a1a"/>
<path d="M927.6,683.1L930.7,688.7L924.5,688.7Z" fill="#1a1a1a"/>
<path d="M946.7,680.9L949.8,686.5L943.6,686.5Z" fill="#1a1a1a"/>
<path d="M965.9,683.3L969.0,688.9L962.8,688.9Z" fill="#1a1a1a"/>
<path d="M985.0,682.8L988.1,688.4L981.9,688.4Z" fill="#1a1a1a"/>
<path d="M1004.1,681.7L1007.2,687.3L1001.0,687.3Z" fill="#1a1a1a"/>
<path d="M1023.2,679.7L1026.3,685.3L1020.1,685.3Z" fill="#1a1a1a"/>
<path d="M1042.4,678.4L1045.5,684.0L1039.3,684.0Z" fill="#1a1a1a"/>
<path d="M1061.5,683.3L1064.6,688.9L1058.4,688.9Z" fill="#1a1a1a"/>
<path d="M1080.6,683.3L1083.7,688.9L1077.5,688.9Z" fill="#1a1a1a"/>
<path d="M1099.8,682.5L1102.9,688.1L1096.7,688.1Z" fill="#1a1a1a"/>
<path d="M1118.9,681.3L1122.0,686.9L1115.8,686.9Z" fill="#1a1a1a"/>
<path d="M216.1,31.4H248.0" stroke="#333" stroke-width="0.9"/><circle cx="232.1" cy="31.4" r="3.0" fill="#1a1a1a"/><text x="250.60" y="39.10" style="font-family:'Liberation Serif','Noto Serif CJK SC',serif;font-size:19.3px;font-weight:bold;letter-spacing:0.6px;">原水</text><path d="M351.3,31.4H382.6" stroke="#333" stroke-width="0.9"/><path d="M367.0,28.0L370.2,34.1L363.8,34.1Z" fill="#fff" stroke="#1a1a1a" stroke-width="1.15"/><text x="387.60" y="39.10" style="font-family:'Liberation Serif','Noto Serif CJK SC',serif;font-size:19.3px;font-weight:bold;">水解池</text><path d="M485.3,31.4H517.2" stroke="#333" stroke-width="0.9"/><path d="M501.2,27.5L504.8,31.4L501.2,35.3L497.8,31.4Z" fill="#1a1a1a"/><text transform="translate(520.49,38.70) scale(0.777,1)" style="font-family:'Liberation Serif',serif;font-size:20.8px;font-weight:bold;">A</text><text transform="translate(533.97,38.70) scale(0.770,1)" style="font-family:'Liberation Serif',serif;font-size:20.8px;font-weight:bold;">1</text><text x="543.40" y="39.10" style="font-family:'Liberation Serif','Noto Serif CJK SC',serif;font-size:19.3px;font-weight:bold;">池</text><path d="M216.1,56.2H248.0" stroke="#1a1a1a" stroke-width="1.4"/><path d="M228.2,52.7L236.0,59.7M236.0,52.7L228.2,59.7" stroke="#2a2a2a" stroke-width="0.95" fill="none"/><text transform="translate(250.63,63.50) scale(0.806,1)" style="font-family:'Liberation Serif',serif;font-size:20.8px;font-weight:bold;">O</text><text transform="translate(264.77,63.50) scale(0.770,1)" style="font-family:'Liberation Serif',serif;font-size:20.8px;font-weight:bold;">1</text><text x="274.20" y="63.90" style="font-family:'Liberation Serif','Noto Serif CJK SC',serif;font-size:19.3px;font-weight:bold;">池</text><path d="M351.3,56.2H382.6" stroke="#1a1a1a" stroke-width="1.4"/><rect x="364.4" y="53.6" width="5.2" height="5.2" fill="none" stroke="#1a1a1a" stroke-width="1"/><text transform="translate(388.29,63.50) scale(0.777,1)" style="font-family:'Liberation Serif',serif;font-size:20.8px;font-weight:bold;">A</text><text transform="translate(401.25,63.50) scale(0.915,1)" style="font-family:'Liberation Serif',serif;font-size:20.8px;font-weight:bold;">2</text><text x="411.20" y="63.90" style="font-family:'Liberation Serif','Noto Serif CJK SC',serif;font-size:19.3px;font-weight:bold;">池</text><path d="M485.3,56.2H517.2" stroke="#1a1a1a" stroke-width="1.4"/><path d="M501.2,52.9L504.4,58.5L498.1,58.5Z" fill="#1a1a1a"/><text transform="translate(519.83,63.50) scale(0.806,1)" style="font-family:'Liberation Serif',serif;font-size:20.8px;font-weight:bold;">O</text><text transform="translate(533.45,63.50) scale(0.915,1)" style="font-family:'Liberation Serif',serif;font-size:20.8px;font-weight:bold;">2</text><text x="543.40" y="63.90" style="font-family:'Liberation Serif','Noto Serif CJK SC',serif;font-size:19.3px;font-weight:bold;">池</text>
<path d="M875.8,34.3H907.0" stroke="#333" stroke-width="0.9"/><circle cx="891.4" cy="34.3" r="3.0" fill="#1a1a1a"/><text x="911.20" y="42.00" style="font-family:'Liberation Serif','Noto Serif CJK SC',serif;font-size:19.3px;font-weight:bold;letter-spacing:0.6px;">原水</text><path d="M992.4,34.3H1023.2" stroke="#333" stroke-width="0.9"/><path d="M1007.8,30.9L1011.0,37.0L1004.6,37.0Z" fill="#fff" stroke="#1a1a1a" stroke-width="1.15"/><text x="1027.70" y="42.00" style="font-family:'Liberation Serif','Noto Serif CJK SC',serif;font-size:19.3px;font-weight:bold;">水解池</text><path d="M1109.7,34.3H1140.2" stroke="#333" stroke-width="0.9"/><path d="M1125.0,30.4L1128.5,34.3L1125.0,38.2L1121.5,34.3Z" fill="#1a1a1a"/><text transform="translate(1145.19,41.60) scale(0.777,1)" style="font-family:'Liberation Serif',serif;font-size:20.8px;font-weight:bold;">A</text><text transform="translate(1158.67,41.60) scale(0.770,1)" style="font-family:'Liberation Serif',serif;font-size:20.8px;font-weight:bold;">1</text><text x="1168.10" y="42.00" style="font-family:'Liberation Serif','Noto Serif CJK SC',serif;font-size:19.3px;font-weight:bold;">池</text><path d="M875.8,59.1H907.0" stroke="#2a2a2a" stroke-width="1.0"/><path d="M887.5,55.6L895.3,62.6M895.3,55.6L887.5,62.6" stroke="#2a2a2a" stroke-width="0.95" fill="none"/><text transform="translate(911.23,66.40) scale(0.806,1)" style="font-family:'Liberation Serif',serif;font-size:20.8px;font-weight:bold;">O</text><text transform="translate(925.37,66.40) scale(0.770,1)" style="font-family:'Liberation Serif',serif;font-size:20.8px;font-weight:bold;">1</text><text x="934.80" y="66.80" style="font-family:'Liberation Serif','Noto Serif CJK SC',serif;font-size:19.3px;font-weight:bold;">池</text><path d="M992.4,59.1H1023.2" stroke="#1a1a1a" stroke-width="1.0"/><rect x="1005.2" y="56.5" width="5.2" height="5.2" fill="none" stroke="#1a1a1a" stroke-width="1"/><text transform="translate(1028.39,66.40) scale(0.777,1)" style="font-family:'Liberation Serif',serif;font-size:20.8px;font-weight:bold;">A</text><text transform="translate(1041.35,66.40) scale(0.915,1)" style="font-family:'Liberation Serif',serif;font-size:20.8px;font-weight:bold;">2</text><text x="1051.30" y="66.80" style="font-family:'Liberation Serif','Noto Serif CJK SC',serif;font-size:19.3px;font-weight:bold;">池</text><path d="M1109.7,59.1H1140.2" stroke="#1a1a1a" stroke-width="1.15"/><path d="M1125.0,55.8L1128.0,61.4L1121.9,61.4Z" fill="#1a1a1a"/><text transform="translate(1144.53,66.40) scale(0.806,1)" style="font-family:'Liberation Serif',serif;font-size:20.8px;font-weight:bold;">O</text><text transform="translate(1158.15,66.40) scale(0.915,1)" style="font-family:'Liberation Serif',serif;font-size:20.8px;font-weight:bold;">2</text><text x="1168.10" y="66.80" style="font-family:'Liberation Serif','Noto Serif CJK SC',serif;font-size:19.3px;font-weight:bold;">池</text>
<path d="M241.0,424.8H271.8" stroke="#333" stroke-width="0.9"/><circle cx="256.4" cy="424.8" r="3.0" fill="#1a1a1a"/><text x="276.50" y="432.50" style="font-family:'Liberation Serif','Noto Serif CJK SC',serif;font-size:19.3px;font-weight:bold;letter-spacing:0.6px;">原水</text><path d="M357.8,424.8H389.1" stroke="#333" stroke-width="0.9"/><path d="M373.5,421.4L376.7,427.5L370.3,427.5Z" fill="#fff" stroke="#1a1a1a" stroke-width="1.15"/><text x="393.50" y="432.50" style="font-family:'Liberation Serif','Noto Serif CJK SC',serif;font-size:19.3px;font-weight:bold;">水解池</text><path d="M474.9,424.8H505.8" stroke="#333" stroke-width="0.9"/><path d="M490.4,420.9L493.9,424.8L490.4,428.7L486.9,424.8Z" fill="#1a1a1a"/><text transform="translate(511.69,432.10) scale(0.777,1)" style="font-family:'Liberation Serif',serif;font-size:20.8px;font-weight:bold;">A</text><text transform="translate(525.17,432.10) scale(0.770,1)" style="font-family:'Liberation Serif',serif;font-size:20.8px;font-weight:bold;">1</text><text x="534.60" y="432.50" style="font-family:'Liberation Serif','Noto Serif CJK SC',serif;font-size:19.3px;font-weight:bold;">池</text><path d="M241.0,450.2H271.8" stroke="#2a2a2a" stroke-width="1.0"/><path d="M252.5,446.7L260.3,453.7M260.3,446.7L252.5,453.7" stroke="#2a2a2a" stroke-width="0.95" fill="none"/><text transform="translate(276.53,457.50) scale(0.806,1)" style="font-family:'Liberation Serif',serif;font-size:20.8px;font-weight:bold;">O</text><text transform="translate(290.67,457.50) scale(0.770,1)" style="font-family:'Liberation Serif',serif;font-size:20.8px;font-weight:bold;">1</text><text x="300.10" y="457.90" style="font-family:'Liberation Serif','Noto Serif CJK SC',serif;font-size:19.3px;font-weight:bold;">池</text><path d="M357.8,450.2H389.1" stroke="#1a1a1a" stroke-width="1.0"/><rect x="370.9" y="447.6" width="5.2" height="5.2" fill="none" stroke="#1a1a1a" stroke-width="1"/><text transform="translate(394.19,457.50) scale(0.777,1)" style="font-family:'Liberation Serif',serif;font-size:20.8px;font-weight:bold;">A</text><text transform="translate(407.15,457.50) scale(0.915,1)" style="font-family:'Liberation Serif',serif;font-size:20.8px;font-weight:bold;">2</text><text x="417.10" y="457.90" style="font-family:'Liberation Serif','Noto Serif CJK SC',serif;font-size:19.3px;font-weight:bold;">池</text><path d="M474.9,450.2H505.8" stroke="#1a1a1a" stroke-width="1.15"/><path d="M490.4,446.9L493.5,452.5L487.2,452.5Z" fill="#1a1a1a"/><text transform="translate(511.03,457.50) scale(0.806,1)" style="font-family:'Liberation Serif',serif;font-size:20.8px;font-weight:bold;">O</text><text transform="translate(524.65,457.50) scale(0.915,1)" style="font-family:'Liberation Serif',serif;font-size:20.8px;font-weight:bold;">2</text><text x="534.60" y="457.90" style="font-family:'Liberation Serif','Noto Serif CJK SC',serif;font-size:19.3px;font-weight:bold;">池</text>
<path d="M875.2,426.6H905.6" stroke="#333" stroke-width="0.9"/><circle cx="890.4" cy="426.6" r="3.0" fill="#1a1a1a"/><text x="909.50" y="434.30" style="font-family:'Liberation Serif','Noto Serif CJK SC',serif;font-size:19.3px;font-weight:bold;letter-spacing:0.6px;">原水</text><path d="M992.2,426.6H1023.2" stroke="#333" stroke-width="0.9"/><path d="M1007.7,423.2L1010.9,429.3L1004.5,429.3Z" fill="#fff" stroke="#1a1a1a" stroke-width="1.15"/><text x="1027.00" y="434.30" style="font-family:'Liberation Serif','Noto Serif CJK SC',serif;font-size:19.3px;font-weight:bold;">水解池</text><path d="M1109.6,426.6H1140.3" stroke="#333" stroke-width="0.9"/><path d="M1124.9,422.7L1128.4,426.6L1124.9,430.5L1121.4,426.6Z" fill="#1a1a1a"/><text transform="translate(1145.39,433.90) scale(0.777,1)" style="font-family:'Liberation Serif',serif;font-size:20.8px;font-weight:bold;">A</text><text transform="translate(1158.87,433.90) scale(0.770,1)" style="font-family:'Liberation Serif',serif;font-size:20.8px;font-weight:bold;">1</text><text x="1168.30" y="434.30" style="font-family:'Liberation Serif','Noto Serif CJK SC',serif;font-size:19.3px;font-weight:bold;">池</text><path d="M875.2,452.7H905.6" stroke="#2a2a2a" stroke-width="1.0"/><path d="M886.5,449.2L894.3,456.2M894.3,449.2L886.5,456.2" stroke="#2a2a2a" stroke-width="0.95" fill="none"/><text transform="translate(909.53,460.00) scale(0.806,1)" style="font-family:'Liberation Serif',serif;font-size:20.8px;font-weight:bold;">O</text><text transform="translate(923.67,460.00) scale(0.770,1)" style="font-family:'Liberation Serif',serif;font-size:20.8px;font-weight:bold;">1</text><text x="933.10" y="460.40" style="font-family:'Liberation Serif','Noto Serif CJK SC',serif;font-size:19.3px;font-weight:bold;">池</text><path d="M992.2,452.7H1023.2" stroke="#1a1a1a" stroke-width="1.0"/><rect x="1005.1" y="450.1" width="5.2" height="5.2" fill="none" stroke="#1a1a1a" stroke-width="1"/><text transform="translate(1027.69,460.00) scale(0.777,1)" style="font-family:'Liberation Serif',serif;font-size:20.8px;font-weight:bold;">A</text><text transform="translate(1040.65,460.00) scale(0.915,1)" style="font-family:'Liberation Serif',serif;font-size:20.8px;font-weight:bold;">2</text><text x="1050.60" y="460.40" style="font-family:'Liberation Serif','Noto Serif CJK SC',serif;font-size:19.3px;font-weight:bold;">池</text><path d="M1109.6,452.7H1140.3" stroke="#1a1a1a" stroke-width="1.15"/><path d="M1124.9,449.4L1128.0,455.0L1121.8,455.0Z" fill="#1a1a1a"/><text transform="translate(1144.73,460.00) scale(0.806,1)" style="font-family:'Liberation Serif',serif;font-size:20.8px;font-weight:bold;">O</text><text transform="translate(1158.35,460.00) scale(0.915,1)" style="font-family:'Liberation Serif',serif;font-size:20.8px;font-weight:bold;">2</text><text x="1168.30" y="460.40" style="font-family:'Liberation Serif','Noto Serif CJK SC',serif;font-size:19.3px;font-weight:bold;">池</text>
<text x="329.00" y="390.70" style="font-family:'Liberation Serif','Noto Serif CJK SC',serif;font-size:19.6px;font-weight:bold;letter-spacing:0.3px;">时间</text><text transform="translate(371.62,390.70) scale(0.855,1)" style="font-family:'Liberation Serif',serif;font-size:20.8px;font-weight:bold;">/</text><text transform="translate(378.58,390.70) scale(0.801,1)" style="font-family:'Liberation Serif',serif;font-size:20.8px;font-weight:bold;">d</text>
<text x="952.80" y="390.30" style="font-family:'Liberation Serif','Noto Serif CJK SC',serif;font-size:19.6px;font-weight:bold;letter-spacing:0.3px;">时间</text><text transform="translate(995.42,390.30) scale(0.855,1)" style="font-family:'Liberation Serif',serif;font-size:20.8px;font-weight:bold;">/</text><text transform="translate(1002.38,390.30) scale(0.801,1)" style="font-family:'Liberation Serif',serif;font-size:20.8px;font-weight:bold;">d</text>
<text x="329.40" y="774.00" style="font-family:'Liberation Serif','Noto Serif CJK SC',serif;font-size:19.6px;font-weight:bold;letter-spacing:0.3px;">时间</text><text transform="translate(372.02,774.00) scale(0.855,1)" style="font-family:'Liberation Serif',serif;font-size:20.8px;font-weight:bold;">/</text><text transform="translate(378.98,774.00) scale(0.801,1)" style="font-family:'Liberation Serif',serif;font-size:20.8px;font-weight:bold;">d</text>
<text x="952.80" y="774.00" style="font-family:'Liberation Serif','Noto Serif CJK SC',serif;font-size:19.6px;font-weight:bold;letter-spacing:0.3px;">时间</text><text transform="translate(995.42,774.00) scale(0.855,1)" style="font-family:'Liberation Serif',serif;font-size:20.8px;font-weight:bold;">/</text><text transform="translate(1002.38,774.00) scale(0.801,1)" style="font-family:'Liberation Serif',serif;font-size:20.8px;font-weight:bold;">d</text>
<text transform="translate(60.90,225.25) rotate(-90) scale(0.692,1)" style="font-family:'Liberation Serif',serif;font-size:20.8px;font-weight:bold;">C</text><text transform="translate(60.90,214.90) rotate(-90) scale(0.841,1)" style="font-family:'Liberation Serif',serif;font-size:20.8px;font-weight:bold;">O</text><text transform="translate(60.90,200.56) rotate(-90) scale(0.858,1)" style="font-family:'Liberation Serif',serif;font-size:20.8px;font-weight:bold;">D</text><text transform="translate(60.90,185.75) rotate(-90) scale(1.001,1)" style="font-family:'Liberation Serif',serif;font-size:20.8px;font-weight:bold;">/</text><text transform="translate(60.90,178.47) rotate(-90) scale(0.899,1)" style="font-family:'Liberation Serif',serif;font-size:20.8px;font-weight:bold;">(</text><text transform="translate(60.90,171.56) rotate(-90) scale(0.737,1)" style="font-family:'Liberation Serif',serif;font-size:20.8px;font-weight:bold;">m</text><text transform="translate(60.90,157.10) rotate(-90) scale(0.829,1)" style="font-family:'Liberation Serif',serif;font-size:20.8px;font-weight:bold;">g</text><circle cx="53.7" cy="141.8" r="1.8" fill="#1a1a1a"/><text transform="translate(60.90,135.02) rotate(-90) scale(0.759,1)" style="font-family:'Liberation Serif',serif;font-size:20.8px;font-weight:bold;">L</text><path d="M51.0,123.4v-5.3" stroke="#333" stroke-width="1.2"/><text transform="translate(54.20,116.63) rotate(-90) scale(0.646,1)" style="font-family:'Liberation Serif',serif;font-size:12.2px;font-weight:bold;">1</text><text transform="translate(60.90,112.36) rotate(-90) scale(0.917,1)" style="font-family:'Liberation Serif',serif;font-size:20.8px;font-weight:bold;">)</text>
<text transform="translate(689.40,218.60) rotate(-90) scale(0.97,1)" style="font-family:'Liberation Serif','Noto Serif CJK SC',serif;font-size:19.6px;font-weight:bold;">氨</text><text transform="translate(689.40,200.00) rotate(-90) scale(0.97,1)" style="font-family:'Liberation Serif','Noto Serif CJK SC',serif;font-size:19.6px;font-weight:bold;">氮</text>
<text transform="translate(688.80,177.75) rotate(-90) scale(1.001,1)" style="font-family:'Liberation Serif',serif;font-size:20.8px;font-weight:bold;">/</text><text transform="translate(688.80,170.47) rotate(-90) scale(0.899,1)" style="font-family:'Liberation Serif',serif;font-size:20.8px;font-weight:bold;">(</text><text transform="translate(688.80,163.56) rotate(-90) scale(0.737,1)" style="font-family:'Liberation Serif',serif;font-size:20.8px;font-weight:bold;">m</text><text transform="translate(688.80,149.10) rotate(-90) scale(0.829,1)" style="font-family:'Liberation Serif',serif;font-size:20.8px;font-weight:bold;">g</text><circle cx="681.6" cy="133.8" r="1.8" fill="#1a1a1a"/><text transform="translate(688.80,127.02) rotate(-90) scale(0.759,1)" style="font-family:'Liberation Serif',serif;font-size:20.8px;font-weight:bold;">L</text><path d="M678.9,115.4v-5.3" stroke="#333" stroke-width="1.2"/><text transform="translate(682.10,108.63) rotate(-90) scale(0.646,1)" style="font-family:'Liberation Serif',serif;font-size:12.2px;font-weight:bold;">1</text><text transform="translate(688.80,104.36) rotate(-90) scale(0.917,1)" style="font-family:'Liberation Serif',serif;font-size:20.8px;font-weight:bold;">)</text>
<text transform="translate(70.80,616.89) rotate(-90) scale(0.733,1)" style="font-family:'Liberation Serif',serif;font-size:20.8px;font-weight:bold;">T</text><text transform="translate(70.80,605.55) rotate(-90) scale(0.746,1)" style="font-family:'Liberation Serif',serif;font-size:20.8px;font-weight:bold;">N</text><text transform="translate(70.80,591.65) rotate(-90) scale(1.001,1)" style="font-family:'Liberation Serif',serif;font-size:20.8px;font-weight:bold;">/</text><text transform="translate(70.80,584.37) rotate(-90) scale(0.899,1)" style="font-family:'Liberation Serif',serif;font-size:20.8px;font-weight:bold;">(</text><text transform="translate(70.80,577.46) rotate(-90) scale(0.737,1)" style="font-family:'Liberation Serif',serif;font-size:20.8px;font-weight:bold;">m</text><text transform="translate(70.80,563.00) rotate(-90) scale(0.829,1)" style="font-family:'Liberation Serif',serif;font-size:20.8px;font-weight:bold;">g</text><circle cx="63.6" cy="547.7" r="1.8" fill="#1a1a1a"/><text transform="translate(70.80,540.92) rotate(-90) scale(0.759,1)" style="font-family:'Liberation Serif',serif;font-size:20.8px;font-weight:bold;">L</text><path d="M60.9,529.3v-5.3" stroke="#333" stroke-width="1.2"/><text transform="translate(64.10,522.53) rotate(-90) scale(0.646,1)" style="font-family:'Liberation Serif',serif;font-size:12.2px;font-weight:bold;">1</text><text transform="translate(70.80,518.26) rotate(-90) scale(0.917,1)" style="font-family:'Liberation Serif',serif;font-size:20.8px;font-weight:bold;">)</text>
<text transform="translate(673.80,610.77) rotate(-90) scale(0.688,1)" style="font-family:'Liberation Serif',serif;font-size:20.8px;font-weight:bold;">T</text><text transform="translate(673.80,599.54) rotate(-90) scale(0.825,1)" style="font-family:'Liberation Serif',serif;font-size:20.8px;font-weight:bold;">P</text><text transform="translate(673.80,586.15) rotate(-90) scale(1.001,1)" style="font-family:'Liberation Serif',serif;font-size:20.8px;font-weight:bold;">/</text><text transform="translate(673.80,578.87) rotate(-90) scale(0.899,1)" style="font-family:'Liberation Serif',serif;font-size:20.8px;font-weight:bold;">(</text><text transform="translate(673.80,571.96) rotate(-90) scale(0.737,1)" style="font-family:'Liberation Serif',serif;font-size:20.8px;font-weight:bold;">m</text><text transform="translate(673.80,557.50) rotate(-90) scale(0.829,1)" style="font-family:'Liberation Serif',serif;font-size:20.8px;font-weight:bold;">g</text><circle cx="666.6" cy="542.2" r="1.8" fill="#1a1a1a"/><text transform="translate(673.80,535.42) rotate(-90) scale(0.759,1)" style="font-family:'Liberation Serif',serif;font-size:20.8px;font-weight:bold;">L</text><path d="M663.9,523.8v-5.3" stroke="#333" stroke-width="1.2"/><text transform="translate(667.10,517.03) rotate(-90) scale(0.646,1)" style="font-family:'Liberation Serif',serif;font-size:12.2px;font-weight:bold;">1</text><text transform="translate(673.80,512.76) rotate(-90) scale(0.917,1)" style="font-family:'Liberation Serif',serif;font-size:20.8px;font-weight:bold;">)</text>
<text x="376.60" y="814.40" style="font-family:'Liberation Serif','Noto Serif CJK SC',serif;font-size:22.4px;">图</text>
<text transform="translate(405.85,814.40) scale(1.002,1)" style="font-family:'Liberation Serif',serif;font-size:24.0px;font-weight:bold;">3</text>
<text x="444.60" y="814.40" style="font-family:'Liberation Serif','Noto Serif CJK SC',serif;font-size:22.4px;letter-spacing:2.8px;">系统内</text>
<text transform="translate(525.50,814.40) scale(0.834,1)" style="font-family:'Liberation Serif',serif;font-size:24.8px;">C</text>
<text transform="translate(539.55,814.40) scale(0.882,1)" style="font-family:'Liberation Serif',serif;font-size:24.8px;">O</text>
<text transform="translate(556.19,814.40) scale(0.784,1)" style="font-family:'Liberation Serif',serif;font-size:24.8px;">D</text>
<text transform="translate(584.80,814.40) scale(0.764,1)" style="font-family:'Liberation Serif',serif;font-size:24.8px;">N</text>
<text transform="translate(599.29,814.40) scale(0.929,1)" style="font-family:'Liberation Serif',serif;font-size:24.8px;">H</text>
<text transform="translate(638.66,814.40) scale(0.686,1)" style="font-family:'Liberation Serif',serif;font-size:24.8px;">N</text>
<text transform="translate(664.93,814.40) scale(0.938,1)" style="font-family:'Liberation Serif',serif;font-size:24.8px;">T</text>
<text transform="translate(680.47,814.40) scale(0.806,1)" style="font-family:'Liberation Serif',serif;font-size:24.8px;">N</text>
<text transform="translate(707.93,814.40) scale(0.938,1)" style="font-family:'Liberation Serif',serif;font-size:24.8px;">T</text>
<text transform="translate(722.54,814.40) scale(0.861,1)" style="font-family:'Liberation Serif',serif;font-size:24.8px;">P</text>
<text transform="translate(618.56,820.60) scale(0.918,1)" style="font-family:'Liberation Serif',serif;font-size:14.5px;">3</text>
<path d="M628.8,808.8H639.6" stroke="#222" stroke-width="1.5"/>
<text x="573.10" y="814.40" style="font-family:'Liberation Serif','Noto Serif CJK SC',serif;font-size:22.4px;">、</text>
<text x="654.70" y="814.40" style="font-family:'Liberation Serif','Noto Serif CJK SC',serif;font-size:22.4px;">、</text>
<text x="697.00" y="814.40" style="font-family:'Liberation Serif','Noto Serif CJK SC',serif;font-size:22.4px;">、</text>
<text x="742.40" y="814.40" style="font-family:'Liberation Serif','Noto Serif CJK SC',serif;font-size:22.4px;letter-spacing:2.7px;">浓度变化情况</text>
</svg></body></html>
